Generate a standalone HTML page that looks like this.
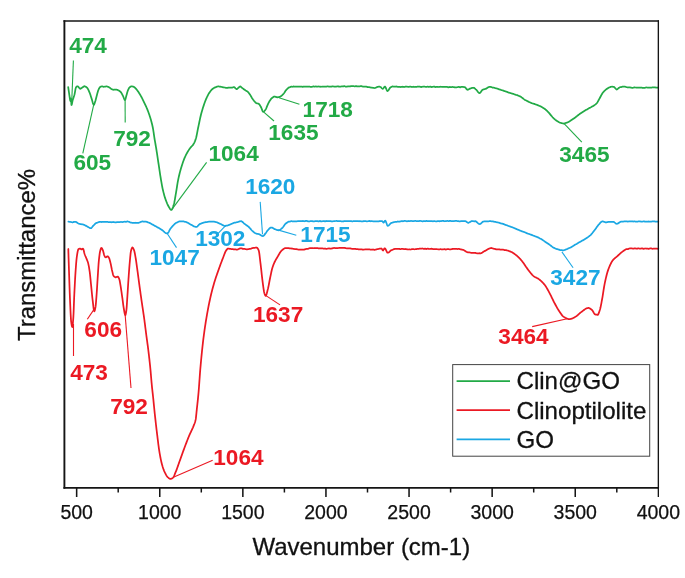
<!DOCTYPE html>
<html lang="en"><head><meta charset="utf-8"><title>FTIR spectra</title>
<style>html,body{margin:0;padding:0;background:#fff;}body{width:685px;height:578px;overflow:hidden;}svg{display:block;filter:blur(0.45px);}</style>
</head><body>
<svg width="685" height="578" viewBox="0 0 685 578">
<rect width="685" height="578" fill="#fff"/>
<path d="M68.20,87.20 L68.42,88.69 L68.63,90.20 L68.85,91.71 L69.07,93.20 L69.28,94.64 L69.50,96.00 L69.72,97.55 L69.95,99.18 L70.18,100.47 L70.40,101.00 L70.65,99.75 L70.90,98.50 L71.02,99.18 L71.14,100.79 L71.26,102.71 L71.38,104.32 L71.50,105.00 L71.78,104.48 L72.05,103.25 L72.32,101.76 L72.60,100.50 L72.98,99.23 L73.36,98.10 L73.74,97.00 L74.12,95.83 L74.50,94.50 L74.80,93.09 L75.10,91.35 L75.40,89.61 L75.70,88.19 L76.00,87.40 L76.40,86.96 L76.80,86.61 L77.20,86.36 L77.60,86.27 L77.97,86.43 L78.34,86.78 L78.71,87.24 L79.09,87.76 L79.46,88.22 L79.83,88.57 L80.20,88.83 L80.55,88.73 L80.90,88.52 L81.25,88.30 L81.60,88.07 L81.95,87.82 L82.30,87.60 L82.70,87.32 L83.10,86.98 L83.50,86.65 L83.90,86.35 L84.30,86.19 L84.67,86.30 L85.04,86.46 L85.41,86.63 L85.79,86.80 L86.16,87.04 L86.53,87.31 L86.90,87.60 L87.27,87.98 L87.64,88.50 L88.01,89.15 L88.39,89.89 L88.76,90.70 L89.13,91.54 L89.50,92.40 L89.85,93.28 L90.20,94.27 L90.55,95.34 L90.90,96.45 L91.25,97.55 L91.60,98.60 L91.97,99.79 L92.33,101.15 L92.70,102.49 L93.07,103.66 L93.43,104.49 L93.80,104.94 L94.15,104.47 L94.50,103.65 L94.85,102.58 L95.20,101.50 L95.52,100.47 L95.84,99.28 L96.16,98.00 L96.48,96.71 L96.80,95.50 L97.12,94.31 L97.44,93.08 L97.76,91.91 L98.08,90.85 L98.40,90.00 L98.76,89.20 L99.12,88.47 L99.48,87.83 L99.84,87.33 L100.20,87.00 L100.56,86.79 L100.92,86.61 L101.28,86.49 L101.64,86.42 L102.00,86.41 L102.36,86.41 L102.72,86.51 L103.08,86.64 L103.44,86.76 L103.80,86.79 L104.16,86.74 L104.53,86.68 L104.89,86.61 L105.25,86.53 L105.61,86.51 L105.97,86.49 L106.34,86.49 L106.70,86.49 L107.07,86.50 L107.43,86.58 L107.80,86.70 L108.17,86.86 L108.53,87.03 L108.90,87.20 L109.27,87.39 L109.63,87.64 L110.00,87.92 L110.37,88.20 L110.73,88.47 L111.10,88.70 L111.47,88.91 L111.83,89.14 L112.20,89.37 L112.57,89.58 L112.93,89.75 L113.30,89.78 L113.66,89.72 L114.03,89.65 L114.39,89.61 L114.75,89.65 L115.11,89.69 L115.47,89.73 L115.84,89.71 L116.20,89.67 L116.57,89.67 L116.93,89.74 L117.30,89.89 L117.67,90.06 L118.03,90.23 L118.40,90.39 L118.77,90.56 L119.13,90.77 L119.50,91.00 L119.87,91.27 L120.23,91.57 L120.60,91.90 L120.97,92.32 L121.33,92.85 L121.70,93.46 L122.07,94.13 L122.43,94.82 L122.80,95.50 L123.17,96.30 L123.53,97.26 L123.90,98.25 L124.27,99.13 L124.63,99.76 L125.00,100.03 L125.35,99.51 L125.70,98.33 L126.05,96.85 L126.40,95.50 L126.78,94.17 L127.15,92.76 L127.53,91.45 L127.90,90.40 L128.28,89.56 L128.66,88.78 L129.04,88.11 L129.42,87.57 L129.80,87.20 L130.14,86.96 L130.48,86.74 L130.82,86.57 L131.16,86.42 L131.50,86.36 L131.87,86.38 L132.23,86.42 L132.60,86.50 L132.97,86.60 L133.33,86.71 L133.70,86.83 L134.07,86.97 L134.43,87.22 L134.80,87.55 L135.17,87.92 L135.53,88.31 L135.90,88.70 L136.26,89.10 L136.62,89.53 L136.99,89.99 L137.35,90.48 L137.71,90.99 L138.08,91.52 L138.44,92.06 L138.80,92.60 L139.18,93.17 L139.55,93.77 L139.93,94.38 L140.30,95.02 L140.68,95.67 L141.05,96.33 L141.43,97.01 L141.80,97.70 L142.16,98.38 L142.53,99.09 L142.89,99.81 L143.25,100.55 L143.61,101.30 L143.97,102.06 L144.34,102.83 L144.70,103.60 L145.06,104.37 L145.42,105.14 L145.79,105.92 L146.15,106.71 L146.51,107.51 L146.88,108.34 L147.24,109.20 L147.60,110.10 L147.96,111.03 L148.32,111.99 L148.69,112.98 L149.05,114.00 L149.41,115.06 L149.78,116.17 L150.14,117.31 L150.50,118.50 L150.83,119.61 L151.16,120.74 L151.49,121.93 L151.81,123.18 L152.14,124.51 L152.47,125.94 L152.80,127.50 L153.01,128.63 L153.23,129.91 L153.44,131.29 L153.65,132.74 L153.86,134.23 L154.07,135.71 L154.29,137.14 L154.50,138.50 L154.72,139.86 L154.95,141.17 L155.18,142.46 L155.40,143.74 L155.62,145.02 L155.85,146.31 L156.08,147.64 L156.30,149.00 L156.52,150.38 L156.74,151.78 L156.96,153.22 L157.18,154.67 L157.40,156.14 L157.62,157.61 L157.84,159.09 L158.06,160.57 L158.28,162.04 L158.50,163.50 L158.72,164.96 L158.94,166.44 L159.16,167.93 L159.38,169.43 L159.60,170.92 L159.82,172.39 L160.04,173.85 L160.26,175.27 L160.48,176.66 L160.70,178.00 L160.96,179.57 L161.22,181.13 L161.49,182.67 L161.75,184.18 L162.01,185.63 L162.28,187.01 L162.54,188.30 L162.80,189.50 L163.18,191.09 L163.55,192.61 L163.93,194.04 L164.30,195.40 L164.68,196.69 L165.05,197.90 L165.43,199.04 L165.80,200.10 L166.16,201.07 L166.53,202.01 L166.89,202.90 L167.25,203.75 L167.61,204.54 L167.97,205.29 L168.34,205.97 L168.70,206.60 L169.07,207.24 L169.44,207.90 L169.81,208.54 L170.19,209.11 L170.56,209.58 L170.93,209.88 L171.30,209.94 L171.66,209.83 L172.01,209.37 L172.37,208.66 L172.73,207.76 L173.09,206.73 L173.44,205.63 L173.80,204.50 L174.08,203.51 L174.35,202.28 L174.62,200.88 L174.90,199.34 L175.18,197.71 L175.45,196.05 L175.72,194.40 L176.00,192.80 L176.24,191.38 L176.49,189.88 L176.73,188.33 L176.98,186.76 L177.22,185.21 L177.47,183.68 L177.71,182.22 L177.96,180.85 L178.20,179.60 L178.56,177.89 L178.92,176.27 L179.29,174.73 L179.65,173.26 L180.01,171.86 L180.38,170.52 L180.74,169.24 L181.10,168.00 L181.50,166.68 L181.90,165.39 L182.30,164.15 L182.70,162.95 L183.10,161.80 L183.50,160.70 L183.90,159.64 L184.30,158.64 L184.70,157.70 L185.09,156.83 L185.48,156.00 L185.87,155.20 L186.26,154.43 L186.64,153.70 L187.03,152.99 L187.42,152.31 L187.81,151.64 L188.20,151.00 L188.57,150.41 L188.93,149.85 L189.30,149.32 L189.67,148.80 L190.03,148.29 L190.40,147.80 L190.77,147.34 L191.13,146.91 L191.50,146.52 L191.87,146.13 L192.23,145.73 L192.60,145.32 L192.97,144.87 L193.33,144.37 L193.70,143.80 L194.07,143.15 L194.43,142.41 L194.80,141.58 L195.17,140.65 L195.53,139.62 L195.90,138.50 L196.19,137.47 L196.47,136.25 L196.76,134.89 L197.05,133.43 L197.34,131.91 L197.62,130.39 L197.91,128.90 L198.20,127.50 L198.50,126.08 L198.80,124.65 L199.10,123.20 L199.40,121.75 L199.70,120.33 L200.00,118.92 L200.30,117.56 L200.60,116.24 L200.90,114.98 L201.20,113.80 L201.56,112.45 L201.92,111.15 L202.29,109.90 L202.65,108.70 L203.01,107.54 L203.38,106.43 L203.74,105.35 L204.10,104.30 L204.46,103.28 L204.82,102.28 L205.19,101.31 L205.55,100.37 L205.91,99.46 L206.28,98.60 L206.64,97.78 L207.00,97.00 L207.36,96.26 L207.72,95.54 L208.09,94.85 L208.45,94.19 L208.81,93.56 L209.18,92.97 L209.54,92.41 L209.90,91.90 L210.26,91.41 L210.62,90.94 L210.99,90.50 L211.35,90.07 L211.71,89.67 L212.08,89.31 L212.44,88.98 L212.80,88.70 L213.18,88.44 L213.55,88.19 L213.93,87.96 L214.30,87.76 L214.68,87.58 L215.05,87.44 L215.43,87.32 L215.80,87.20 L216.16,87.03 L216.53,86.86 L216.89,86.69 L217.25,86.57 L217.61,86.49 L217.97,86.43 L218.34,86.39 L218.70,86.42 L219.06,86.51 L219.42,86.60 L219.78,86.65 L220.14,86.67 L220.50,86.71 L220.86,86.76 L221.22,86.85 L221.58,86.94 L221.94,87.02 L222.30,87.10 L222.70,87.21 L223.10,87.33 L223.50,87.44 L223.90,87.47 L224.30,87.49 L224.70,87.50 L225.10,87.60 L225.50,87.73 L225.90,87.86 L226.30,87.94 L226.70,87.98 L227.07,87.98 L227.43,87.96 L227.80,87.82 L228.17,87.68 L228.53,87.55 L228.90,87.51 L229.27,87.55 L229.63,87.58 L230.00,87.61 L230.37,87.62 L230.73,87.62 L231.10,87.62 L231.46,87.61 L231.82,87.58 L232.19,87.55 L232.55,87.52 L232.91,87.41 L233.28,87.29 L233.64,87.17 L234.00,87.10 L234.37,87.27 L234.74,87.56 L235.11,87.91 L235.49,88.29 L235.86,88.64 L236.23,88.93 L236.60,89.21 L236.96,88.98 L237.32,88.70 L237.68,88.41 L238.04,88.09 L238.40,87.80 L238.74,87.51 L239.08,87.17 L239.42,86.84 L239.76,86.58 L240.10,86.44 L240.48,86.58 L240.86,86.83 L241.24,87.15 L241.62,87.49 L242.00,87.80 L242.38,88.08 L242.75,88.37 L243.12,88.66 L243.50,88.96 L243.88,89.26 L244.25,89.55 L244.62,89.83 L245.00,90.10 L245.36,90.33 L245.72,90.55 L246.09,90.75 L246.45,90.95 L246.81,91.14 L247.18,91.36 L247.54,91.61 L247.90,91.90 L248.27,92.26 L248.63,92.69 L249.00,93.18 L249.37,93.71 L249.73,94.25 L250.10,94.80 L250.47,95.38 L250.83,96.00 L251.20,96.65 L251.57,97.30 L251.93,97.92 L252.30,98.50 L252.67,99.04 L253.03,99.56 L253.40,100.06 L253.77,100.54 L254.13,100.99 L254.50,101.40 L254.85,101.78 L255.20,102.16 L255.55,102.52 L255.90,102.84 L256.25,103.11 L256.60,103.25 L256.97,103.36 L257.33,103.47 L257.70,103.50 L258.07,103.55 L258.43,103.66 L258.80,103.89 L259.17,104.17 L259.53,104.62 L259.90,105.20 L260.27,105.86 L260.63,106.54 L261.00,107.20 L261.37,107.97 L261.73,108.93 L262.10,109.93 L262.47,110.82 L262.83,111.45 L263.20,111.74 L263.54,111.67 L263.89,111.45 L264.23,111.17 L264.57,110.81 L264.91,110.40 L265.26,109.95 L265.60,109.50 L266.00,108.83 L266.40,107.94 L266.80,106.93 L267.20,105.92 L267.60,105.00 L267.97,104.23 L268.33,103.45 L268.70,102.69 L269.07,101.96 L269.43,101.30 L269.80,100.70 L270.17,100.15 L270.53,99.63 L270.90,99.13 L271.27,98.69 L271.63,98.31 L272.00,98.00 L272.35,97.75 L272.70,97.50 L273.05,97.26 L273.40,97.04 L273.75,96.81 L274.10,96.61 L274.45,96.50 L274.80,96.54 L275.19,96.69 L275.57,96.82 L275.96,96.93 L276.34,97.07 L276.73,97.21 L277.11,97.30 L277.50,97.29 L277.86,97.21 L278.23,97.14 L278.59,97.10 L278.95,97.04 L279.31,96.95 L279.67,96.83 L280.04,96.70 L280.40,96.56 L280.77,96.34 L281.15,96.08 L281.52,95.79 L281.90,95.46 L282.27,95.09 L282.65,94.70 L283.02,94.30 L283.40,93.90 L283.76,93.47 L284.12,92.98 L284.49,92.45 L284.85,91.90 L285.21,91.34 L285.57,90.81 L285.94,90.32 L286.30,89.90 L286.66,89.51 L287.02,89.13 L287.39,88.75 L287.75,88.40 L288.11,88.08 L288.48,87.80 L288.84,87.56 L289.20,87.41 L289.56,87.32 L289.93,87.22 L290.29,87.04 L290.65,86.86 L291.01,86.68 L291.38,86.62 L291.74,86.64 L292.10,86.71 L292.50,86.77 L292.90,86.67 L293.30,86.56 L293.70,86.46 L294.10,86.51 L294.50,86.56 L294.90,86.61 L295.30,86.63 L295.70,86.64 L296.10,86.65 L296.50,86.63 L296.90,86.59 L297.30,86.55 L297.70,86.54 L298.10,86.59 L298.50,86.65 L298.90,86.71 L299.30,86.71 L299.70,86.72 L300.10,86.72 L300.50,86.69 L300.90,86.65 L301.30,86.62 L301.70,86.63 L302.10,86.70 L302.49,86.78 L302.89,86.81 L303.29,86.71 L303.69,86.61 L304.09,86.51 L304.49,86.51 L304.89,86.51 L305.28,86.52 L305.68,86.54 L306.08,86.56 L306.48,86.59 L306.88,86.61 L307.28,86.61 L307.68,86.61 L308.08,86.61 L308.47,86.57 L308.87,86.54 L309.27,86.51 L309.67,86.62 L310.07,86.74 L310.47,86.86 L310.87,86.88 L311.26,86.86 L311.66,86.85 L312.06,86.78 L312.46,86.66 L312.86,86.53 L313.26,86.43 L313.66,86.47 L314.05,86.51 L314.45,86.56 L314.85,86.54 L315.25,86.51 L315.65,86.48 L316.05,86.49 L316.45,86.53 L316.85,86.56 L317.24,86.57 L317.64,86.54 L318.04,86.50 L318.44,86.48 L318.84,86.51 L319.24,86.55 L319.64,86.58 L320.03,86.64 L320.43,86.71 L320.83,86.78 L321.23,86.75 L321.63,86.66 L322.03,86.56 L322.43,86.51 L322.82,86.55 L323.22,86.59 L323.62,86.63 L324.02,86.62 L324.42,86.61 L324.82,86.60 L325.22,86.61 L325.62,86.63 L326.01,86.66 L326.41,86.60 L326.81,86.48 L327.21,86.36 L327.61,86.31 L328.01,86.42 L328.41,86.53 L328.80,86.64 L329.20,86.68 L329.60,86.71 L330.00,86.74 L330.40,86.70 L330.80,86.64 L331.20,86.58 L331.60,86.52 L332.00,86.46 L332.40,86.41 L332.80,86.38 L333.20,86.44 L333.60,86.50 L334.00,86.57 L334.40,86.57 L334.80,86.57 L335.20,86.58 L335.60,86.57 L336.00,86.55 L336.40,86.54 L336.80,86.49 L337.20,86.40 L337.60,86.31 L338.00,86.28 L338.40,86.41 L338.80,86.55 L339.20,86.69 L339.60,86.68 L340.00,86.67 L340.40,86.67 L340.80,86.59 L341.20,86.50 L341.60,86.41 L342.00,86.37 L342.40,86.40 L342.80,86.42 L343.20,86.42 L343.60,86.32 L344.00,86.22 L344.40,86.13 L344.80,86.28 L345.20,86.44 L345.60,86.60 L346.00,86.61 L346.40,86.58 L346.80,86.55 L347.20,86.52 L347.60,86.48 L348.00,86.45 L348.40,86.43 L348.80,86.45 L349.20,86.47 L349.60,86.48 L350.00,86.38 L350.40,86.28 L350.80,86.18 L351.20,86.17 L351.60,86.19 L352.00,86.21 L352.40,86.21 L352.80,86.20 L353.20,86.19 L353.60,86.19 L354.00,86.25 L354.40,86.31 L354.80,86.36 L355.20,86.28 L355.60,86.19 L356.00,86.10 L356.40,86.18 L356.80,86.32 L357.20,86.46 L357.60,86.49 L358.00,86.41 L358.40,86.34 L358.80,86.28 L359.20,86.28 L359.60,86.27 L360.00,86.27 L360.40,86.22 L360.80,86.17 L361.20,86.13 L361.60,86.21 L362.00,86.32 L362.40,86.44 L362.80,86.52 L363.20,86.57 L363.60,86.63 L364.00,86.67 L364.40,86.69 L364.80,86.70 L365.20,86.72 L365.60,86.72 L366.00,86.72 L366.40,86.72 L366.80,86.81 L367.20,86.94 L367.60,87.07 L368.00,87.11 L368.40,87.08 L368.80,87.05 L369.20,87.06 L369.60,87.21 L370.00,87.35 L370.40,87.49 L370.80,87.53 L371.20,87.57 L371.60,87.63 L372.00,87.68 L372.40,87.73 L372.80,87.77 L373.20,87.83 L373.60,87.90 L374.00,87.97 L374.40,88.01 L374.77,88.00 L375.13,87.92 L375.50,87.81 L375.87,87.65 L376.23,87.47 L376.60,87.28 L376.97,87.10 L377.33,86.96 L377.70,86.85 L378.07,86.79 L378.43,86.74 L378.80,86.68 L379.14,86.64 L379.48,86.66 L379.82,86.78 L380.16,86.92 L380.50,87.03 L380.87,87.22 L381.23,87.58 L381.60,88.00 L381.97,88.39 L382.33,88.69 L382.70,88.80 L383.07,88.64 L383.43,88.23 L383.80,87.70 L384.17,87.17 L384.53,86.76 L384.90,86.64 L385.27,86.84 L385.64,87.47 L386.01,88.33 L386.39,89.27 L386.76,90.13 L387.13,90.76 L387.50,91.09 L387.89,90.86 L388.27,90.49 L388.66,89.96 L389.05,89.34 L389.44,88.69 L389.83,88.09 L390.21,87.60 L390.60,87.30 L390.97,87.16 L391.33,87.01 L391.70,86.83 L392.07,86.65 L392.43,86.46 L392.80,86.43 L393.18,86.50 L393.56,86.59 L393.93,86.63 L394.31,86.61 L394.69,86.59 L395.07,86.56 L395.44,86.54 L395.82,86.51 L396.20,86.48 L396.58,86.53 L396.96,86.65 L397.33,86.77 L397.71,86.90 L398.09,86.88 L398.47,86.86 L398.84,86.84 L399.22,86.86 L399.60,86.92 L400.00,86.98 L400.40,87.01 L400.80,86.96 L401.20,86.91 L401.60,86.86 L402.00,86.81 L402.40,86.77 L402.80,86.72 L403.20,86.79 L403.60,86.90 L404.00,87.02 L404.40,87.00 L404.80,86.85 L405.20,86.70 L405.60,86.58 L406.00,86.57 L406.40,86.56 L406.80,86.55 L407.20,86.67 L407.60,86.78 L408.00,86.90 L408.40,86.88 L408.80,86.82 L409.20,86.76 L409.60,86.73 L410.00,86.73 L410.40,86.72 L410.80,86.74 L411.20,86.83 L411.60,86.92 L412.00,87.01 L412.40,86.92 L412.80,86.82 L413.20,86.73 L413.60,86.78 L414.00,86.87 L414.40,86.97 L414.80,87.00 L415.20,86.95 L415.60,86.91 L416.00,86.87 L416.40,86.81 L416.80,86.76 L417.20,86.70 L417.60,86.66 L418.00,86.61 L418.40,86.56 L418.80,86.58 L419.20,86.61 L419.60,86.64 L420.00,86.72 L420.40,86.84 L420.80,86.97 L421.20,87.04 L421.60,86.94 L422.00,86.84 L422.40,86.75 L422.80,86.70 L423.20,86.66 L423.60,86.62 L424.00,86.63 L424.40,86.65 L424.80,86.67 L425.20,86.74 L425.60,86.84 L426.00,86.95 L426.40,86.99 L426.80,86.87 L427.20,86.74 L427.60,86.61 L428.00,86.72 L428.40,86.82 L428.80,86.93 L429.20,86.87 L429.60,86.76 L430.00,86.65 L430.40,86.67 L430.79,86.81 L431.19,86.95 L431.59,87.04 L431.98,86.97 L432.38,86.90 L432.78,86.83 L433.17,86.76 L433.57,86.68 L433.97,86.60 L434.37,86.68 L434.76,86.84 L435.16,86.99 L435.56,87.05 L435.95,86.96 L436.35,86.87 L436.75,86.80 L437.14,86.87 L437.54,86.94 L437.94,87.01 L438.33,87.00 L438.73,86.97 L439.13,86.95 L439.52,86.90 L439.92,86.84 L440.32,86.78 L440.71,86.74 L441.11,86.75 L441.51,86.76 L441.90,86.77 L442.30,86.79 L442.70,86.81 L443.10,86.82 L443.49,86.84 L443.89,86.85 L444.29,86.86 L444.68,86.86 L445.08,86.85 L445.48,86.84 L445.87,86.84 L446.27,86.85 L446.67,86.85 L447.06,86.86 L447.46,87.00 L447.86,87.16 L448.25,87.32 L448.65,87.29 L449.05,87.15 L449.44,87.02 L449.84,86.96 L450.24,87.03 L450.63,87.11 L451.03,87.17 L451.43,87.11 L451.83,87.05 L452.22,86.99 L452.62,86.99 L453.02,87.01 L453.41,87.03 L453.81,87.09 L454.21,87.18 L454.60,87.28 L455.00,87.35 L455.40,87.38 L455.79,87.41 L456.19,87.43 L456.58,87.35 L456.98,87.26 L457.38,87.18 L457.77,87.09 L458.17,87.00 L458.56,86.92 L458.96,86.93 L459.35,87.07 L459.75,87.22 L460.15,87.33 L460.54,87.17 L460.94,87.00 L461.33,86.84 L461.73,86.85 L462.12,86.89 L462.52,86.94 L462.92,86.97 L463.31,86.99 L463.71,87.01 L464.10,87.04 L464.50,87.07 L464.86,87.12 L465.23,87.42 L465.59,87.85 L465.95,88.35 L466.31,88.85 L466.67,89.28 L467.04,89.59 L467.40,89.79 L467.76,89.71 L468.12,89.58 L468.49,89.41 L468.85,89.23 L469.21,89.03 L469.57,88.83 L469.94,88.67 L470.30,88.55 L470.66,88.43 L471.02,88.28 L471.39,88.13 L471.75,88.00 L472.11,87.89 L472.48,87.82 L472.84,87.79 L473.20,87.79 L473.57,87.75 L473.95,87.83 L474.32,88.05 L474.70,88.34 L475.07,88.67 L475.45,89.02 L475.82,89.37 L476.20,89.70 L476.57,90.06 L476.93,90.50 L477.30,90.99 L477.67,91.49 L478.03,91.98 L478.40,92.42 L478.77,92.78 L479.13,93.01 L479.50,93.10 L479.90,92.98 L480.30,92.64 L480.70,92.16 L481.10,91.59 L481.50,90.99 L481.90,90.44 L482.30,89.99 L482.70,89.70 L483.07,89.55 L483.45,89.46 L483.82,89.34 L484.20,89.22 L484.57,89.10 L484.95,89.01 L485.32,88.94 L485.70,88.83 L486.06,88.67 L486.42,88.44 L486.78,88.21 L487.14,87.97 L487.50,87.73 L487.86,87.50 L488.22,87.29 L488.58,87.13 L488.94,87.00 L489.30,86.90 L489.67,86.85 L490.04,86.84 L490.41,86.90 L490.78,86.97 L491.15,87.04 L491.52,87.16 L491.89,87.31 L492.26,87.46 L492.63,87.60 L493.00,87.59 L493.38,87.60 L493.77,87.61 L494.15,87.72 L494.54,87.87 L494.92,88.03 L495.31,88.16 L495.69,88.24 L496.07,88.33 L496.46,88.42 L496.84,88.51 L497.23,88.61 L497.61,88.70 L497.99,88.84 L498.38,89.03 L498.76,89.22 L499.15,89.39 L499.53,89.46 L499.92,89.53 L500.30,89.60 L500.70,89.75 L501.09,89.94 L501.49,90.13 L501.88,90.26 L502.28,90.33 L502.67,90.39 L503.07,90.48 L503.46,90.66 L503.86,90.85 L504.25,91.03 L504.65,91.13 L505.05,91.23 L505.44,91.33 L505.84,91.45 L506.23,91.60 L506.63,91.75 L507.02,91.90 L507.42,92.08 L507.81,92.26 L508.21,92.44 L508.60,92.54 L509.00,92.64 L509.39,92.74 L509.79,92.87 L510.18,93.01 L510.57,93.14 L510.96,93.28 L511.36,93.41 L511.75,93.53 L512.14,93.65 L512.54,93.72 L512.93,93.78 L513.32,93.85 L513.71,94.01 L514.11,94.19 L514.50,94.37 L514.89,94.52 L515.29,94.65 L515.68,94.79 L516.07,94.91 L516.46,94.99 L516.86,95.08 L517.25,95.17 L517.64,95.34 L518.04,95.52 L518.43,95.70 L518.82,95.87 L519.21,96.03 L519.61,96.20 L520.00,96.38 L520.39,96.60 L520.78,96.83 L521.18,97.09 L521.57,97.36 L521.96,97.64 L522.35,97.94 L522.75,98.24 L523.14,98.54 L523.53,98.83 L523.92,99.12 L524.32,99.40 L524.71,99.66 L525.10,99.90 L525.49,100.13 L525.87,100.35 L526.26,100.57 L526.65,100.77 L527.03,100.97 L527.42,101.16 L527.81,101.35 L528.19,101.56 L528.58,101.77 L528.97,101.98 L529.35,102.15 L529.74,102.30 L530.13,102.45 L530.51,102.61 L530.90,102.80 L531.28,102.99 L531.67,103.16 L532.05,103.28 L532.44,103.40 L532.82,103.50 L533.21,103.60 L533.59,103.70 L533.97,103.79 L534.36,103.91 L534.74,104.07 L535.13,104.24 L535.51,104.40 L535.89,104.53 L536.28,104.66 L536.66,104.79 L537.05,104.92 L537.43,105.05 L537.82,105.19 L538.20,105.34 L538.59,105.51 L538.99,105.69 L539.38,105.88 L539.77,106.02 L540.17,106.18 L540.56,106.35 L540.95,106.54 L541.35,106.74 L541.74,106.96 L542.13,107.18 L542.53,107.41 L542.92,107.65 L543.31,107.89 L543.71,108.14 L544.10,108.40 L544.49,108.68 L544.88,108.97 L545.27,109.29 L545.66,109.63 L546.05,109.98 L546.45,110.35 L546.84,110.73 L547.23,111.11 L547.62,111.51 L548.01,111.90 L548.40,112.30 L548.80,112.72 L549.20,113.17 L549.60,113.63 L550.00,114.11 L550.40,114.60 L550.80,115.09 L551.20,115.58 L551.60,116.06 L552.00,116.53 L552.40,116.98 L552.80,117.40 L553.19,117.79 L553.57,118.18 L553.96,118.56 L554.34,118.92 L554.73,119.27 L555.11,119.60 L555.50,119.90 L555.90,120.20 L556.30,120.50 L556.70,120.79 L557.10,121.08 L557.50,121.35 L557.90,121.61 L558.30,121.85 L558.70,122.08 L559.10,122.30 L559.50,122.48 L559.90,122.63 L560.29,122.76 L560.68,122.86 L561.07,122.95 L561.46,123.03 L561.84,123.14 L562.23,123.24 L562.62,123.32 L563.01,123.41 L563.40,123.51 L563.80,123.56 L564.20,123.52 L564.60,123.35 L565.00,123.19 L565.40,123.02 L565.80,122.93 L566.20,122.82 L566.60,122.69 L567.00,122.55 L567.40,122.41 L567.80,122.26 L568.17,122.10 L568.54,121.90 L568.91,121.70 L569.29,121.50 L569.66,121.30 L570.03,121.07 L570.40,120.84 L570.77,120.60 L571.14,120.35 L571.51,120.10 L571.89,119.85 L572.26,119.60 L572.63,119.35 L573.00,119.10 L573.39,118.84 L573.78,118.56 L574.17,118.28 L574.56,117.99 L574.94,117.70 L575.33,117.39 L575.72,117.09 L576.11,116.78 L576.50,116.47 L576.89,116.16 L577.28,115.85 L577.67,115.54 L578.06,115.24 L578.44,114.94 L578.83,114.64 L579.22,114.35 L579.61,114.07 L580.00,113.80 L580.39,113.53 L580.78,113.27 L581.17,113.01 L581.56,112.76 L581.94,112.51 L582.33,112.26 L582.72,112.01 L583.11,111.76 L583.50,111.52 L583.89,111.28 L584.28,111.04 L584.67,110.80 L585.06,110.56 L585.44,110.33 L585.83,110.10 L586.22,109.86 L586.61,109.63 L587.00,109.40 L587.39,109.17 L587.77,108.95 L588.16,108.73 L588.55,108.52 L588.94,108.31 L589.33,108.10 L589.71,107.89 L590.10,107.69 L590.49,107.49 L590.88,107.29 L591.26,107.08 L591.65,106.85 L592.04,106.62 L592.43,106.39 L592.81,106.15 L593.20,105.90 L593.59,105.65 L593.98,105.41 L594.37,105.16 L594.76,104.91 L595.14,104.64 L595.53,104.35 L595.92,104.04 L596.31,103.69 L596.70,103.30 L597.07,102.85 L597.44,102.29 L597.81,101.65 L598.19,100.97 L598.56,100.26 L598.93,99.56 L599.30,98.90 L599.69,98.21 L600.08,97.49 L600.47,96.76 L600.86,96.02 L601.24,95.29 L601.63,94.60 L602.02,93.94 L602.41,93.33 L602.80,92.80 L603.19,92.32 L603.58,91.86 L603.97,91.43 L604.36,91.02 L604.74,90.63 L605.13,90.27 L605.52,89.92 L605.91,89.60 L606.30,89.30 L606.69,89.01 L607.08,88.72 L607.47,88.44 L607.86,88.17 L608.24,87.92 L608.63,87.69 L609.02,87.50 L609.41,87.36 L609.80,87.22 L610.19,87.07 L610.58,86.91 L610.97,86.78 L611.36,86.75 L611.74,86.73 L612.13,86.74 L612.52,86.74 L612.91,86.76 L613.30,86.77 L613.69,86.76 L614.08,86.94 L614.47,87.30 L614.86,87.73 L615.24,88.17 L615.63,88.60 L616.02,88.96 L616.41,89.27 L616.80,89.54 L617.19,89.30 L617.57,89.00 L617.96,88.69 L618.34,88.33 L618.73,87.99 L619.11,87.69 L619.50,87.48 L619.89,87.27 L620.28,87.18 L620.67,87.13 L621.06,87.10 L621.45,87.03 L621.85,86.88 L622.24,86.73 L622.63,86.59 L623.02,86.54 L623.41,86.51 L623.80,86.50 L624.18,86.54 L624.56,86.60 L624.94,86.67 L625.31,86.77 L625.69,86.90 L626.07,87.04 L626.45,87.17 L626.83,87.25 L627.21,87.31 L627.59,87.36 L627.96,87.40 L628.34,87.43 L628.72,87.44 L629.10,87.42 L629.50,87.44 L629.90,87.45 L630.30,87.47 L630.70,87.54 L631.10,87.64 L631.50,87.74 L631.90,87.79 L632.30,87.78 L632.70,87.78 L633.10,87.75 L633.50,87.64 L633.90,87.53 L634.30,87.43 L634.70,87.45 L635.10,87.48 L635.50,87.50 L635.90,87.53 L636.30,87.55 L636.70,87.58 L637.10,87.58 L637.50,87.56 L637.90,87.54 L638.30,87.54 L638.70,87.60 L639.10,87.66 L639.50,87.72 L639.90,87.67 L640.30,87.61 L640.70,87.56 L641.10,87.59 L641.50,87.65 L641.90,87.71 L642.30,87.77 L642.70,87.83 L643.10,87.90 L643.49,87.94 L643.88,87.92 L644.28,87.91 L644.67,87.89 L645.06,87.77 L645.45,87.64 L645.84,87.52 L646.24,87.47 L646.63,87.49 L647.02,87.50 L647.41,87.52 L647.81,87.55 L648.20,87.58 L648.59,87.61 L648.98,87.64 L649.37,87.67 L649.77,87.70 L650.16,87.68 L650.55,87.63 L650.94,87.58 L651.33,87.54 L651.73,87.51 L652.12,87.48 L652.51,87.46 L652.90,87.46 L653.29,87.47 L653.69,87.48 L654.08,87.46 L654.47,87.43 L654.86,87.40 L655.26,87.42 L655.65,87.53 L656.04,87.63 L656.43,87.72 L656.82,87.69 L657.22,87.65 L657.61,87.62 L658.00,87.57" fill="none" stroke="#22AA46" stroke-width="1.75" stroke-linejoin="round" stroke-linecap="round"/>
<path d="M68.40,221.61 L68.79,221.68 L69.18,221.74 L69.57,221.80 L69.96,221.86 L70.35,221.93 L70.74,222.01 L71.13,222.08 L71.52,222.15 L71.91,222.24 L72.30,222.34 L72.67,222.33 L73.04,222.22 L73.41,222.07 L73.79,221.92 L74.16,221.81 L74.53,221.75 L74.90,221.77 L75.30,221.76 L75.70,221.81 L76.10,221.95 L76.50,222.18 L76.90,222.45 L77.30,222.73 L77.70,223.02 L78.10,223.29 L78.50,223.54 L78.90,223.74 L79.30,223.87 L79.67,223.94 L80.03,223.99 L80.40,224.03 L80.77,224.08 L81.13,224.17 L81.50,224.26 L81.87,224.36 L82.23,224.41 L82.60,224.45 L82.97,224.49 L83.33,224.56 L83.70,224.69 L84.09,224.85 L84.48,225.03 L84.87,225.23 L85.26,225.43 L85.65,225.64 L86.05,225.86 L86.44,226.07 L86.83,226.28 L87.22,226.50 L87.61,226.71 L88.00,226.91 L88.39,227.12 L88.77,227.38 L89.16,227.64 L89.54,227.89 L89.93,228.05 L90.31,228.12 L90.70,228.12 L91.07,228.17 L91.44,227.93 L91.81,227.53 L92.19,227.06 L92.56,226.57 L92.93,226.10 L93.30,225.70 L93.69,225.32 L94.08,224.93 L94.47,224.52 L94.86,224.12 L95.24,223.74 L95.63,223.39 L96.02,223.10 L96.41,222.90 L96.80,222.80 L97.17,222.71 L97.54,222.61 L97.91,222.46 L98.29,222.30 L98.66,222.15 L99.03,222.02 L99.40,221.95 L99.77,221.88 L100.14,221.83 L100.51,221.85 L100.89,221.91 L101.26,221.99 L101.63,222.03 L102.00,221.97 L102.39,221.91 L102.78,221.84 L103.17,221.81 L103.57,221.79 L103.96,221.76 L104.35,221.77 L104.74,221.80 L105.13,221.82 L105.53,221.83 L105.92,221.82 L106.31,221.80 L106.70,221.78 L107.09,221.85 L107.48,221.91 L107.88,221.98 L108.27,222.03 L108.66,222.06 L109.05,222.10 L109.44,222.12 L109.83,222.11 L110.22,222.09 L110.62,222.08 L111.01,222.14 L111.40,222.20 L111.79,222.27 L112.18,222.21 L112.57,222.11 L112.97,222.01 L113.36,221.99 L113.75,222.07 L114.14,222.16 L114.53,222.25 L114.92,222.32 L115.32,222.39 L115.71,222.46 L116.10,222.37 L116.49,222.22 L116.89,222.08 L117.28,222.02 L117.67,222.07 L118.07,222.11 L118.46,222.14 L118.85,222.14 L119.25,222.14 L119.64,222.14 L120.04,222.08 L120.43,222.01 L120.82,221.94 L121.22,221.94 L121.61,222.01 L122.00,222.07 L122.40,222.10 L122.79,222.00 L123.18,221.90 L123.58,221.80 L123.97,221.76 L124.36,221.74 L124.76,221.71 L125.15,221.73 L125.55,221.77 L125.94,221.82 L126.33,221.81 L126.73,221.65 L127.12,221.50 L127.51,221.35 L127.91,221.48 L128.30,221.62 L128.69,221.75 L129.07,221.83 L129.46,222.01 L129.84,222.22 L130.23,222.41 L130.61,222.54 L131.00,222.62 L131.38,222.68 L131.76,222.73 L132.14,222.77 L132.53,222.82 L132.91,222.85 L133.29,222.87 L133.67,222.89 L134.05,222.90 L134.43,222.85 L134.81,222.80 L135.19,222.74 L135.57,222.77 L135.96,222.82 L136.34,222.86 L136.72,222.90 L137.10,222.91 L137.48,222.91 L137.86,222.87 L138.24,222.85 L138.62,222.79 L139.01,222.69 L139.39,222.55 L139.77,222.39 L140.15,222.22 L140.53,222.06 L140.91,221.90 L141.29,221.74 L141.67,221.60 L142.06,221.51 L142.44,221.47 L142.82,221.49 L143.20,221.54 L143.57,221.52 L143.93,221.52 L144.30,221.54 L144.67,221.55 L145.03,221.56 L145.40,221.59 L145.77,221.64 L146.13,221.72 L146.50,221.80 L146.87,221.89 L147.23,222.01 L147.60,222.16 L147.99,222.32 L148.38,222.47 L148.77,222.60 L149.16,222.75 L149.54,222.92 L149.93,223.10 L150.32,223.29 L150.71,223.49 L151.10,223.71 L151.49,223.94 L151.88,224.17 L152.27,224.40 L152.66,224.62 L153.04,224.84 L153.43,225.07 L153.82,225.29 L154.21,225.50 L154.60,225.71 L154.99,225.91 L155.38,226.12 L155.77,226.33 L156.16,226.55 L156.54,226.76 L156.93,226.97 L157.32,227.19 L157.71,227.41 L158.10,227.63 L158.49,227.85 L158.88,228.08 L159.27,228.30 L159.66,228.52 L160.04,228.75 L160.43,228.99 L160.82,229.22 L161.21,229.46 L161.60,229.70 L162.00,229.97 L162.40,230.28 L162.80,230.61 L163.20,230.96 L163.60,231.32 L164.00,231.68 L164.40,232.04 L164.80,232.37 L165.20,232.68 L165.60,232.95 L166.00,233.16 L166.40,233.29 L166.80,233.34 L167.20,233.33 L167.56,233.38 L167.91,233.07 L168.27,232.59 L168.62,232.00 L168.98,231.33 L169.33,230.64 L169.69,229.95 L170.04,229.33 L170.40,228.80 L170.80,228.28 L171.20,227.78 L171.60,227.29 L172.00,226.81 L172.40,226.36 L172.80,225.92 L173.20,225.50 L173.56,225.13 L173.92,224.75 L174.29,224.37 L174.65,224.01 L175.01,223.67 L175.38,223.37 L175.74,223.11 L176.10,222.91 L176.48,222.75 L176.86,222.57 L177.24,222.38 L177.61,222.17 L177.99,221.97 L178.37,221.78 L178.75,221.64 L179.13,221.50 L179.51,221.38 L179.89,221.35 L180.26,221.35 L180.64,221.39 L181.02,221.42 L181.40,221.43 L181.77,221.42 L182.13,221.42 L182.50,221.34 L182.87,221.29 L183.23,221.26 L183.60,221.34 L183.97,221.49 L184.33,221.65 L184.70,221.80 L185.07,221.82 L185.43,221.85 L185.80,221.89 L186.20,222.01 L186.60,222.20 L187.00,222.41 L187.40,222.62 L187.80,222.85 L188.20,223.09 L188.60,223.33 L189.00,223.58 L189.40,223.82 L189.80,224.05 L190.20,224.28 L190.60,224.49 L191.00,224.69 L191.38,224.88 L191.76,225.10 L192.14,225.31 L192.51,225.53 L192.89,225.75 L193.27,225.96 L193.65,226.16 L194.03,226.35 L194.41,226.50 L194.79,226.63 L195.16,226.72 L195.54,226.80 L195.92,226.85 L196.30,226.88 L196.69,226.86 L197.08,226.70 L197.47,226.37 L197.86,225.98 L198.24,225.54 L198.63,225.10 L199.02,224.69 L199.41,224.35 L199.80,224.09 L200.20,223.90 L200.60,223.73 L201.00,223.56 L201.40,223.41 L201.80,223.26 L202.20,223.10 L202.60,222.94 L203.00,222.81 L203.40,222.70 L203.80,222.61 L204.20,222.52 L204.60,222.40 L205.00,222.29 L205.38,222.19 L205.76,222.15 L206.14,222.14 L206.51,222.13 L206.89,222.10 L207.27,222.01 L207.65,221.92 L208.03,221.83 L208.41,221.75 L208.79,221.67 L209.16,221.60 L209.54,221.57 L209.92,221.60 L210.30,221.64 L210.70,221.70 L211.10,221.66 L211.50,221.62 L211.90,221.59 L212.30,221.61 L212.70,221.65 L213.10,221.69 L213.50,221.71 L213.90,221.72 L214.30,221.73 L214.70,221.77 L215.10,221.90 L215.50,222.04 L215.88,222.16 L216.26,222.18 L216.64,222.24 L217.01,222.34 L217.39,222.49 L217.77,222.69 L218.15,222.88 L218.53,223.08 L218.91,223.24 L219.29,223.42 L219.66,223.58 L220.04,223.75 L220.42,223.91 L220.80,224.05 L221.20,224.24 L221.60,224.46 L222.00,224.69 L222.40,224.91 L222.80,225.13 L223.20,225.35 L223.60,225.54 L224.00,225.73 L224.40,225.89 L224.80,226.03 L225.20,226.05 L225.57,225.91 L225.93,225.78 L226.30,225.64 L226.67,225.64 L227.03,225.60 L227.40,225.53 L227.77,225.43 L228.13,225.30 L228.50,225.17 L228.87,225.04 L229.23,224.88 L229.60,224.71 L229.99,224.54 L230.38,224.38 L230.77,224.22 L231.16,224.05 L231.55,223.88 L231.95,223.70 L232.34,223.53 L232.73,223.36 L233.12,223.19 L233.51,223.01 L233.90,222.85 L234.30,222.73 L234.70,222.68 L235.10,222.64 L235.50,222.58 L235.90,222.47 L236.30,222.36 L236.70,222.26 L237.10,222.18 L237.50,222.10 L237.89,222.00 L238.28,221.86 L238.67,221.71 L239.06,221.56 L239.44,221.43 L239.83,221.34 L240.22,221.27 L240.61,221.23 L241.00,221.16 L241.39,221.21 L241.78,221.41 L242.17,221.68 L242.56,222.00 L242.94,222.36 L243.33,222.74 L243.72,223.12 L244.11,223.48 L244.50,223.80 L244.89,224.09 L245.28,224.36 L245.67,224.64 L246.06,224.91 L246.45,225.18 L246.85,225.46 L247.24,225.74 L247.63,226.04 L248.02,226.34 L248.41,226.66 L248.80,227.00 L249.19,227.37 L249.58,227.78 L249.97,228.22 L250.36,228.67 L250.74,229.13 L251.13,229.59 L251.52,230.02 L251.91,230.43 L252.30,230.80 L252.69,231.15 L253.08,231.49 L253.47,231.83 L253.86,232.16 L254.24,232.47 L254.63,232.76 L255.02,233.01 L255.41,233.23 L255.80,233.40 L256.19,233.54 L256.58,233.68 L256.97,233.81 L257.36,233.94 L257.74,233.99 L258.13,233.99 L258.52,234.01 L258.91,234.08 L259.30,234.21 L259.70,234.42 L260.10,234.69 L260.50,234.95 L260.90,235.22 L261.30,235.48 L261.70,235.72 L262.10,235.91 L262.50,236.01 L262.90,236.02 L263.27,235.98 L263.64,235.74 L264.01,235.36 L264.39,234.89 L264.76,234.38 L265.13,233.87 L265.50,233.40 L265.87,232.93 L266.24,232.41 L266.61,231.87 L266.99,231.32 L267.36,230.79 L267.73,230.31 L268.10,229.90 L268.50,229.49 L268.90,229.06 L269.30,228.64 L269.70,228.25 L270.10,227.91 L270.50,227.65 L270.90,227.56 L271.30,227.60 L271.69,227.58 L272.07,227.62 L272.46,227.80 L272.85,228.05 L273.24,228.32 L273.62,228.59 L274.01,228.82 L274.40,229.05 L274.77,229.16 L275.15,229.27 L275.52,229.38 L275.89,229.52 L276.26,229.69 L276.64,229.86 L277.01,230.02 L277.38,230.12 L277.75,230.19 L278.13,230.24 L278.50,230.28 L278.88,230.26 L279.26,230.15 L279.64,229.95 L280.02,229.69 L280.40,229.44 L280.78,229.16 L281.16,228.86 L281.54,228.54 L281.92,228.22 L282.30,227.90 L282.69,227.53 L283.08,227.06 L283.47,226.53 L283.86,225.96 L284.24,225.38 L284.63,224.82 L285.02,224.30 L285.41,223.85 L285.80,223.50 L286.17,223.22 L286.54,222.95 L286.91,222.68 L287.28,222.43 L287.65,222.20 L288.02,221.97 L288.39,221.78 L288.76,221.63 L289.13,221.54 L289.50,221.52 L289.88,221.53 L290.27,221.45 L290.65,221.34 L291.04,221.23 L291.42,221.17 L291.81,221.22 L292.19,221.26 L292.58,221.32 L292.96,221.31 L293.35,221.31 L293.73,221.31 L294.12,221.31 L294.50,221.32 L294.90,221.33 L295.30,221.34 L295.70,221.36 L296.10,221.39 L296.50,221.41 L296.89,221.33 L297.29,221.25 L297.69,221.17 L298.09,221.12 L298.49,221.07 L298.89,221.02 L299.29,221.01 L299.69,221.03 L300.09,221.05 L300.49,221.07 L300.89,221.09 L301.29,221.12 L301.68,221.14 L302.08,221.08 L302.48,221.03 L302.88,220.97 L303.28,221.03 L303.68,221.14 L304.08,221.25 L304.48,221.27 L304.88,221.16 L305.28,221.05 L305.68,220.96 L306.07,220.95 L306.47,220.95 L306.87,220.95 L307.27,221.09 L307.67,221.24 L308.07,221.39 L308.47,221.43 L308.87,221.41 L309.27,221.38 L309.67,221.33 L310.07,221.24 L310.46,221.14 L310.86,221.06 L311.26,221.08 L311.66,221.09 L312.06,221.11 L312.46,221.19 L312.86,221.27 L313.26,221.35 L313.66,221.36 L314.06,221.32 L314.46,221.29 L314.86,221.24 L315.25,221.18 L315.65,221.12 L316.05,221.07 L316.45,221.10 L316.85,221.14 L317.25,221.17 L317.65,221.23 L318.05,221.30 L318.45,221.37 L318.85,221.31 L319.25,221.16 L319.64,221.01 L320.04,220.98 L320.44,221.15 L320.84,221.32 L321.24,221.47 L321.64,221.39 L322.04,221.32 L322.44,221.25 L322.84,221.18 L323.24,221.12 L323.64,221.05 L324.04,221.08 L324.43,221.19 L324.83,221.30 L325.23,221.33 L325.63,221.20 L326.03,221.08 L326.43,220.97 L326.83,221.02 L327.23,221.08 L327.63,221.14 L328.03,221.17 L328.43,221.20 L328.82,221.23 L329.22,221.21 L329.62,221.15 L330.02,221.10 L330.42,221.09 L330.82,221.20 L331.22,221.31 L331.62,221.41 L332.02,221.38 L332.42,221.35 L332.82,221.32 L333.21,221.24 L333.61,221.15 L334.01,221.05 L334.41,221.01 L334.81,221.01 L335.21,221.01 L335.61,221.00 L336.01,220.99 L336.41,220.97 L336.81,220.96 L337.21,221.04 L337.61,221.13 L338.00,221.22 L338.40,221.19 L338.80,221.12 L339.20,221.06 L339.60,221.06 L340.00,221.12 L340.40,221.18 L340.79,221.24 L341.19,221.28 L341.59,221.33 L341.99,221.38 L342.38,221.39 L342.78,221.40 L343.18,221.41 L343.57,221.32 L343.97,221.19 L344.37,221.06 L344.77,221.00 L345.16,221.04 L345.56,221.07 L345.96,221.11 L346.35,221.12 L346.75,221.14 L347.15,221.15 L347.55,221.15 L347.94,221.14 L348.34,221.14 L348.74,221.14 L349.13,221.14 L349.53,221.15 L349.93,221.16 L350.33,221.16 L350.72,221.17 L351.12,221.18 L351.52,221.23 L351.92,221.28 L352.31,221.33 L352.71,221.28 L353.11,221.21 L353.50,221.13 L353.90,221.09 L354.30,221.10 L354.70,221.11 L355.09,221.11 L355.49,221.12 L355.89,221.13 L356.28,221.14 L356.68,221.10 L357.08,221.06 L357.48,221.02 L357.87,221.06 L358.27,221.14 L358.67,221.22 L359.06,221.26 L359.46,221.22 L359.86,221.18 L360.26,221.16 L360.65,221.24 L361.05,221.33 L361.45,221.42 L361.84,221.42 L362.24,221.40 L362.64,221.39 L363.04,221.32 L363.43,221.22 L363.83,221.12 L364.23,221.05 L364.62,221.05 L365.02,221.05 L365.42,221.06 L365.82,221.15 L366.21,221.24 L366.61,221.34 L367.01,221.33 L367.40,221.29 L367.80,221.25 L368.20,221.19 L368.60,221.09 L368.99,221.00 L369.39,220.95 L369.79,221.06 L370.18,221.16 L370.58,221.27 L370.98,221.23 L371.38,221.19 L371.77,221.15 L372.17,221.19 L372.57,221.25 L372.97,221.32 L373.36,221.36 L373.76,221.35 L374.16,221.34 L374.55,221.34 L374.95,221.37 L375.35,221.40 L375.75,221.43 L376.14,221.40 L376.54,221.37 L376.94,221.33 L377.33,221.33 L377.73,221.37 L378.13,221.41 L378.53,221.40 L378.92,221.29 L379.32,221.18 L379.72,221.08 L380.11,221.09 L380.51,221.10 L380.91,221.11 L381.31,221.07 L381.70,221.03 L382.10,221.08 L382.48,221.40 L382.85,221.85 L383.23,222.30 L383.60,222.68 L384.00,222.22 L384.40,221.60 L384.80,220.98 L385.20,220.57 L385.57,220.98 L385.94,221.71 L386.31,222.71 L386.69,223.79 L387.06,224.79 L387.43,225.52 L387.80,225.82 L388.18,225.75 L388.56,225.51 L388.93,225.19 L389.31,224.81 L389.69,224.40 L390.07,223.99 L390.44,223.61 L390.82,223.30 L391.20,223.06 L391.59,222.88 L391.97,222.77 L392.36,222.66 L392.75,222.56 L393.14,222.41 L393.52,222.28 L393.91,222.15 L394.30,222.07 L394.69,222.01 L395.07,221.96 L395.46,221.92 L395.85,221.89 L396.24,221.87 L396.62,221.85 L397.01,221.73 L397.40,221.60 L397.79,221.47 L398.19,221.50 L398.58,221.57 L398.98,221.65 L399.37,221.65 L399.77,221.55 L400.16,221.44 L400.56,221.34 L400.95,221.27 L401.34,221.20 L401.74,221.13 L402.13,221.16 L402.53,221.21 L402.92,221.28 L403.32,221.24 L403.71,221.11 L404.11,220.99 L404.50,220.91 L404.90,220.94 L405.30,220.97 L405.69,221.00 L406.09,221.10 L406.49,221.21 L406.89,221.31 L407.29,221.26 L407.68,221.14 L408.08,221.02 L408.48,220.99 L408.88,221.08 L409.27,221.16 L409.67,221.21 L410.07,221.10 L410.47,220.99 L410.87,220.87 L411.26,220.94 L411.66,221.01 L412.06,221.09 L412.46,221.13 L412.86,221.15 L413.25,221.18 L413.65,221.16 L414.05,221.08 L414.45,221.01 L414.85,220.94 L415.24,220.96 L415.64,220.98 L416.04,221.00 L416.44,221.04 L416.84,221.07 L417.23,221.11 L417.63,221.13 L418.03,221.14 L418.43,221.15 L418.82,221.13 L419.22,221.05 L419.62,220.98 L420.02,220.91 L420.42,220.95 L420.81,221.00 L421.21,221.04 L421.61,221.13 L422.01,221.23 L422.41,221.33 L422.80,221.32 L423.20,221.20 L423.60,221.09 L424.00,221.02 L424.40,221.10 L424.79,221.18 L425.19,221.26 L425.59,221.16 L425.99,221.06 L426.39,220.96 L426.78,220.96 L427.18,221.01 L427.58,221.05 L427.98,221.08 L428.38,221.09 L428.77,221.10 L429.17,221.11 L429.57,221.13 L429.97,221.14 L430.36,221.15 L430.76,221.17 L431.16,221.19 L431.56,221.21 L431.96,221.23 L432.35,221.24 L432.75,221.26 L433.15,221.26 L433.55,221.24 L433.95,221.23 L434.34,221.21 L434.74,221.23 L435.14,221.25 L435.54,221.27 L435.94,221.28 L436.33,221.30 L436.73,221.31 L437.13,221.26 L437.53,221.16 L437.93,221.07 L438.32,221.03 L438.72,221.12 L439.12,221.20 L439.52,221.28 L439.91,221.23 L440.31,221.18 L440.71,221.12 L441.11,221.08 L441.51,221.03 L441.90,220.99 L442.30,220.96 L442.70,220.94 L443.10,220.93 L443.50,220.94 L443.89,221.04 L444.29,221.14 L444.69,221.25 L445.09,221.23 L445.49,221.20 L445.88,221.18 L446.28,221.11 L446.68,221.01 L447.08,220.91 L447.48,220.90 L447.87,220.99 L448.27,221.08 L448.67,221.13 L449.07,221.04 L449.46,220.95 L449.86,220.85 L450.26,220.90 L450.66,220.96 L451.06,221.02 L451.45,221.06 L451.85,221.09 L452.25,221.12 L452.65,221.14 L453.05,221.16 L453.44,221.17 L453.84,221.18 L454.24,221.09 L454.64,221.01 L455.04,220.92 L455.43,220.89 L455.83,220.87 L456.23,220.85 L456.63,220.90 L457.02,220.99 L457.42,221.08 L457.82,221.16 L458.22,221.20 L458.62,221.24 L459.01,221.28 L459.41,221.27 L459.81,221.27 L460.21,221.27 L460.61,221.21 L461.00,221.13 L461.40,221.06 L461.80,221.04 L462.20,221.07 L462.60,221.10 L463.00,221.11 L463.40,221.12 L463.80,221.12 L464.20,221.13 L464.60,221.15 L465.00,221.15 L465.37,221.16 L465.73,221.24 L466.10,221.44 L466.47,221.71 L466.83,221.99 L467.20,222.26 L467.57,222.50 L467.93,222.74 L468.30,222.86 L468.67,222.70 L469.04,222.53 L469.41,222.34 L469.78,222.14 L470.15,221.90 L470.52,221.66 L470.89,221.43 L471.26,221.22 L471.63,221.07 L472.00,221.00 L472.38,221.06 L472.75,221.13 L473.12,221.20 L473.50,221.24 L473.88,221.27 L474.25,221.29 L474.62,221.31 L475.00,221.23 L475.39,221.20 L475.78,221.32 L476.18,221.57 L476.57,221.88 L476.96,222.23 L477.35,222.60 L477.74,222.97 L478.13,223.32 L478.52,223.63 L478.92,223.86 L479.31,224.00 L479.70,224.09 L480.09,224.02 L480.48,223.82 L480.87,223.52 L481.26,223.16 L481.64,222.78 L482.03,222.41 L482.42,222.08 L482.81,221.82 L483.20,221.63 L483.60,221.51 L484.00,221.49 L484.40,221.49 L484.80,221.49 L485.20,221.47 L485.60,221.44 L486.00,221.40 L486.40,221.37 L486.80,221.33 L487.20,221.29 L487.60,221.26 L488.00,221.25 L488.40,221.25 L488.80,221.25 L489.20,221.21 L489.60,221.16 L490.00,221.10 L490.40,221.11 L490.79,221.18 L491.17,221.25 L491.56,221.32 L491.94,221.31 L492.33,221.32 L492.71,221.34 L493.10,221.43 L493.49,221.53 L493.87,221.64 L494.26,221.72 L494.64,221.77 L495.03,221.81 L495.41,221.87 L495.80,222.00 L496.19,222.13 L496.57,222.26 L496.96,222.34 L497.34,222.39 L497.73,222.44 L498.11,222.50 L498.50,222.58 L498.89,222.67 L499.28,222.76 L499.67,222.94 L500.06,223.12 L500.45,223.31 L500.84,223.41 L501.23,223.48 L501.62,223.54 L502.01,223.62 L502.40,223.71 L502.80,223.81 L503.19,223.91 L503.58,224.08 L503.97,224.25 L504.36,224.42 L504.75,224.58 L505.14,224.74 L505.53,224.89 L505.92,225.04 L506.31,225.16 L506.70,225.28 L507.09,225.40 L507.48,225.55 L507.87,225.70 L508.26,225.86 L508.65,226.00 L509.04,226.15 L509.43,226.29 L509.82,226.43 L510.21,226.55 L510.60,226.68 L511.00,226.81 L511.39,226.96 L511.78,227.10 L512.17,227.25 L512.56,227.40 L512.95,227.55 L513.34,227.70 L513.73,227.85 L514.12,228.02 L514.51,228.19 L514.90,228.36 L515.30,228.54 L515.70,228.72 L516.10,228.91 L516.50,229.09 L516.90,229.27 L517.30,229.45 L517.70,229.59 L518.10,229.71 L518.50,229.82 L518.90,229.96 L519.30,230.17 L519.69,230.37 L520.08,230.57 L520.47,230.73 L520.87,230.88 L521.26,231.03 L521.65,231.19 L522.04,231.34 L522.43,231.49 L522.83,231.63 L523.22,231.76 L523.61,231.88 L524.00,232.00 L524.39,232.15 L524.78,232.30 L525.17,232.45 L525.57,232.63 L525.96,232.82 L526.35,233.01 L526.74,233.19 L527.13,233.33 L527.53,233.48 L527.92,233.63 L528.31,233.76 L528.70,233.89 L529.09,234.03 L529.48,234.16 L529.86,234.30 L530.25,234.44 L530.64,234.57 L531.03,234.68 L531.41,234.79 L531.80,234.90 L532.19,235.11 L532.58,235.31 L532.96,235.51 L533.35,235.66 L533.74,235.79 L534.12,235.91 L534.51,236.05 L534.90,236.20 L535.29,236.35 L535.67,236.50 L536.06,236.64 L536.45,236.79 L536.84,236.94 L537.23,237.09 L537.61,237.24 L538.00,237.41 L538.39,237.59 L538.78,237.79 L539.17,238.00 L539.57,238.22 L539.96,238.42 L540.35,238.64 L540.74,238.87 L541.13,239.11 L541.52,239.35 L541.92,239.60 L542.31,239.85 L542.70,240.10 L543.09,240.36 L543.48,240.61 L543.88,240.87 L544.27,241.13 L544.66,241.40 L545.05,241.66 L545.44,241.92 L545.83,242.18 L546.23,242.44 L546.62,242.69 L547.01,242.95 L547.40,243.20 L547.79,243.46 L548.18,243.72 L548.57,244.00 L548.96,244.29 L549.35,244.58 L549.74,244.87 L550.13,245.17 L550.52,245.47 L550.91,245.77 L551.30,246.06 L551.70,246.35 L552.09,246.64 L552.48,246.91 L552.87,247.18 L553.26,247.43 L553.65,247.67 L554.04,247.88 L554.43,248.08 L554.82,248.28 L555.21,248.47 L555.60,248.64 L555.99,248.79 L556.38,248.94 L556.77,249.04 L557.16,249.12 L557.54,249.20 L557.93,249.29 L558.32,249.43 L558.71,249.56 L559.10,249.69 L559.49,249.83 L559.88,249.98 L560.27,250.12 L560.66,250.18 L561.04,250.17 L561.43,250.14 L561.82,250.14 L562.21,250.25 L562.60,250.35 L562.99,250.41 L563.38,250.34 L563.77,250.25 L564.16,250.14 L564.54,250.01 L564.93,249.87 L565.32,249.71 L565.71,249.56 L566.10,249.42 L566.49,249.28 L566.88,249.12 L567.27,248.92 L567.66,248.73 L568.04,248.53 L568.43,248.36 L568.82,248.20 L569.21,248.05 L569.60,247.91 L569.99,247.75 L570.37,247.58 L570.76,247.39 L571.14,247.18 L571.53,246.96 L571.91,246.74 L572.30,246.52 L572.69,246.30 L573.07,246.07 L573.46,245.83 L573.84,245.59 L574.23,245.35 L574.61,245.10 L575.00,244.86 L575.39,244.61 L575.77,244.37 L576.16,244.13 L576.54,243.89 L576.93,243.66 L577.31,243.42 L577.70,243.20 L578.09,242.98 L578.48,242.77 L578.87,242.55 L579.26,242.33 L579.64,242.11 L580.03,241.89 L580.42,241.68 L580.81,241.47 L581.20,241.25 L581.59,241.04 L581.98,240.82 L582.37,240.59 L582.76,240.37 L583.14,240.15 L583.53,239.92 L583.92,239.68 L584.31,239.44 L584.70,239.20 L585.09,238.95 L585.49,238.70 L585.88,238.46 L586.27,238.21 L586.67,237.95 L587.06,237.70 L587.45,237.44 L587.85,237.17 L588.24,236.89 L588.63,236.61 L589.03,236.31 L589.42,236.01 L589.81,235.69 L590.21,235.35 L590.60,235.00 L590.99,234.62 L591.38,234.21 L591.77,233.77 L592.17,233.31 L592.56,232.82 L592.95,232.32 L593.34,231.81 L593.73,231.28 L594.12,230.76 L594.52,230.23 L594.91,229.71 L595.30,229.20 L595.69,228.68 L596.08,228.14 L596.47,227.58 L596.86,227.02 L597.24,226.47 L597.63,225.93 L598.02,225.41 L598.41,224.93 L598.80,224.50 L599.19,224.08 L599.58,223.63 L599.97,223.18 L600.36,222.75 L600.74,222.35 L601.13,222.01 L601.52,221.74 L601.91,221.55 L602.30,221.45 L602.69,221.43 L603.08,221.47 L603.47,221.58 L603.86,221.73 L604.24,221.88 L604.63,222.03 L605.02,222.17 L605.41,222.31 L605.80,222.43 L606.19,222.40 L606.58,222.31 L606.97,222.22 L607.36,222.14 L607.74,222.06 L608.13,221.98 L608.52,221.90 L608.91,221.87 L609.30,221.85 L609.69,221.82 L610.08,221.81 L610.47,221.82 L610.86,221.83 L611.24,221.84 L611.63,221.85 L612.02,221.87 L612.41,221.90 L612.80,221.82 L613.18,221.79 L613.56,221.88 L613.95,222.08 L614.33,222.33 L614.71,222.61 L615.09,222.89 L615.47,223.17 L615.85,223.42 L616.24,223.66 L616.62,223.80 L617.00,223.76 L617.40,223.65 L617.80,223.56 L618.20,223.36 L618.60,223.09 L619.00,222.78 L619.40,222.48 L619.80,222.19 L620.20,221.95 L620.60,221.76 L621.00,221.65 L621.39,221.60 L621.77,221.61 L622.16,221.66 L622.55,221.71 L622.93,221.71 L623.32,221.61 L623.71,221.51 L624.09,221.42 L624.48,221.39 L624.87,221.36 L625.25,221.33 L625.64,221.33 L626.03,221.34 L626.41,221.35 L626.80,221.38 L627.20,221.45 L627.60,221.52 L628.00,221.60 L628.39,221.50 L628.79,221.40 L629.19,221.30 L629.59,221.32 L629.99,221.38 L630.39,221.44 L630.79,221.46 L631.19,221.42 L631.58,221.38 L631.98,221.36 L632.38,221.42 L632.78,221.47 L633.18,221.52 L633.58,221.46 L633.98,221.39 L634.38,221.32 L634.77,221.37 L635.17,221.48 L635.57,221.59 L635.97,221.66 L636.37,221.69 L636.77,221.72 L637.17,221.72 L637.57,221.62 L637.96,221.51 L638.36,221.41 L638.76,221.40 L639.16,221.41 L639.56,221.42 L639.96,221.45 L640.36,221.49 L640.76,221.53 L641.15,221.56 L641.55,221.59 L641.95,221.61 L642.35,221.62 L642.75,221.50 L643.15,221.39 L643.55,221.27 L643.95,221.34 L644.34,221.45 L644.74,221.56 L645.14,221.61 L645.54,221.64 L645.94,221.66 L646.34,221.67 L646.74,221.67 L647.14,221.67 L647.53,221.66 L647.93,221.60 L648.33,221.54 L648.73,221.48 L649.13,221.52 L649.53,221.59 L649.93,221.65 L650.33,221.65 L650.72,221.61 L651.12,221.56 L651.52,221.51 L651.92,221.45 L652.32,221.38 L652.72,221.33 L653.12,221.34 L653.52,221.36 L653.91,221.38 L654.31,221.42 L654.71,221.47 L655.11,221.53 L655.51,221.55 L655.91,221.54 L656.31,221.53 L656.71,221.54 L657.10,221.58 L657.50,221.63 L657.90,221.67 L658.30,221.65" fill="none" stroke="#1AA7E3" stroke-width="1.75" stroke-linejoin="round" stroke-linecap="round"/>
<path d="M68.30,249.00 L68.35,250.47 L68.39,251.95 L68.44,253.44 L68.49,254.92 L68.53,256.42 L68.58,257.91 L68.63,259.40 L68.67,260.88 L68.72,262.36 L68.77,263.83 L68.81,265.29 L68.86,266.74 L68.91,268.18 L68.95,269.60 L69.00,271.00 L69.05,272.57 L69.10,274.15 L69.16,275.74 L69.21,277.33 L69.26,278.92 L69.31,280.51 L69.37,282.10 L69.42,283.68 L69.47,285.24 L69.52,286.79 L69.58,288.33 L69.63,289.84 L69.68,291.33 L69.73,292.79 L69.79,294.22 L69.84,295.62 L69.89,296.98 L69.94,298.31 L70.00,299.58 L70.05,300.82 L70.10,302.00 L70.18,303.75 L70.26,305.52 L70.34,307.29 L70.41,309.04 L70.49,310.76 L70.57,312.43 L70.65,314.04 L70.73,315.56 L70.81,316.98 L70.89,318.29 L70.96,319.46 L71.04,320.48 L71.12,321.33 L71.20,322.00 L71.47,323.91 L71.75,325.50 L72.03,326.59 L72.30,327.00 L72.44,326.73 L72.59,325.97 L72.73,324.82 L72.87,323.36 L73.01,321.68 L73.16,319.86 L73.30,318.00 L73.36,317.10 L73.42,316.03 L73.49,314.81 L73.55,313.46 L73.61,312.01 L73.67,310.46 L73.74,308.85 L73.80,307.19 L73.86,305.50 L73.92,303.80 L73.99,302.11 L74.05,300.45 L74.11,298.84 L74.17,297.30 L74.24,295.85 L74.30,294.50 L74.38,292.84 L74.46,291.18 L74.54,289.55 L74.62,287.93 L74.71,286.34 L74.79,284.77 L74.87,283.22 L74.95,281.71 L75.03,280.23 L75.11,278.78 L75.19,277.37 L75.27,276.00 L75.36,274.68 L75.44,273.40 L75.52,272.18 L75.60,271.00 L75.72,269.31 L75.84,267.64 L75.96,266.01 L76.08,264.43 L76.20,262.92 L76.32,261.50 L76.44,260.18 L76.56,258.98 L76.68,257.92 L76.80,257.00 L77.07,255.17 L77.33,253.44 L77.60,251.91 L77.87,250.65 L78.13,249.75 L78.40,249.30 L78.76,249.06 L79.12,248.84 L79.48,248.67 L79.84,248.60 L80.20,248.62 L80.53,248.72 L80.85,248.95 L81.17,249.20 L81.50,249.43 L81.88,249.23 L82.25,248.95 L82.62,248.72 L83.00,248.60 L83.40,249.23 L83.80,250.73 L84.20,252.51 L84.60,254.00 L84.98,255.03 L85.36,255.98 L85.74,256.87 L86.12,257.77 L86.50,258.70 L86.88,259.60 L87.25,260.47 L87.62,261.44 L88.00,262.60 L88.27,263.62 L88.53,264.82 L88.80,266.18 L89.07,267.69 L89.33,269.34 L89.60,271.10 L89.75,272.19 L89.90,273.42 L90.05,274.75 L90.20,276.16 L90.35,277.64 L90.50,279.16 L90.65,280.69 L90.80,282.23 L90.95,283.74 L91.10,285.20 L91.25,286.61 L91.39,288.07 L91.54,289.55 L91.68,291.05 L91.83,292.54 L91.97,294.02 L92.12,295.47 L92.26,296.88 L92.41,298.23 L92.55,299.51 L92.70,300.70 L92.90,302.36 L93.10,304.13 L93.30,305.90 L93.50,307.57 L93.70,309.05 L93.90,310.23 L94.10,311.02 L94.30,311.28 L94.60,310.94 L94.90,309.97 L95.20,308.60 L95.50,307.00 L95.62,306.20 L95.74,305.17 L95.87,303.93 L95.99,302.54 L96.11,301.03 L96.23,299.43 L96.36,297.79 L96.48,296.13 L96.60,294.50 L96.69,293.26 L96.78,291.94 L96.88,290.57 L96.97,289.14 L97.06,287.68 L97.15,286.20 L97.24,284.70 L97.33,283.20 L97.42,281.70 L97.52,280.23 L97.61,278.79 L97.70,277.40 L97.80,275.88 L97.90,274.32 L98.00,272.73 L98.10,271.14 L98.20,269.56 L98.30,268.00 L98.40,266.49 L98.50,265.04 L98.60,263.67 L98.70,262.39 L98.80,261.23 L98.90,260.20 L99.09,258.46 L99.27,256.83 L99.46,255.31 L99.64,253.94 L99.83,252.73 L100.01,251.71 L100.20,250.90 L100.50,249.78 L100.80,248.78 L101.10,248.07 L101.40,247.95 L101.75,248.01 L102.10,248.56 L102.45,249.31 L102.80,250.10 L103.12,251.02 L103.44,252.23 L103.76,253.53 L104.08,254.72 L104.40,255.60 L104.80,256.43 L105.20,257.12 L105.60,257.35 L105.98,257.29 L106.36,257.01 L106.74,256.69 L107.12,256.43 L107.50,256.33 L107.88,256.44 L108.25,256.80 L108.62,257.31 L109.00,257.90 L109.40,258.82 L109.80,260.17 L110.20,261.76 L110.60,263.40 L110.87,264.57 L111.13,265.88 L111.40,267.27 L111.67,268.65 L111.93,269.95 L112.20,271.10 L112.58,272.65 L112.95,274.17 L113.33,275.41 L113.70,276.10 L114.10,276.43 L114.50,276.71 L114.90,276.94 L115.30,277.16 L115.70,277.35 L116.08,277.19 L116.46,277.01 L116.84,276.85 L117.22,276.74 L117.60,276.67 L117.92,276.72 L118.24,277.06 L118.56,277.57 L118.88,278.20 L119.20,278.90 L119.45,279.67 L119.70,280.77 L119.95,282.12 L120.20,283.62 L120.45,285.18 L120.70,286.70 L120.90,287.92 L121.10,289.20 L121.30,290.54 L121.50,291.92 L121.70,293.33 L121.90,294.76 L122.10,296.18 L122.30,297.60 L122.49,298.96 L122.67,300.40 L122.86,301.87 L123.05,303.33 L123.24,304.76 L123.42,306.12 L123.61,307.38 L123.80,308.50 L124.10,310.26 L124.40,312.05 L124.70,313.64 L125.00,314.77 L125.30,315.20 L125.58,314.77 L125.85,313.62 L126.12,311.99 L126.40,310.10 L126.50,309.26 L126.60,308.17 L126.70,306.89 L126.80,305.46 L126.90,303.92 L127.00,302.32 L127.10,300.71 L127.20,299.12 L127.30,297.60 L127.39,296.23 L127.48,294.82 L127.58,293.37 L127.67,291.91 L127.76,290.43 L127.85,288.94 L127.95,287.45 L128.04,285.97 L128.13,284.50 L128.22,283.05 L128.32,281.63 L128.41,280.24 L128.50,278.90 L128.61,277.35 L128.72,275.81 L128.82,274.27 L128.93,272.75 L129.04,271.25 L129.15,269.77 L129.26,268.33 L129.37,266.92 L129.48,265.56 L129.58,264.25 L129.69,262.99 L129.80,261.80 L129.95,260.16 L130.10,258.51 L130.25,256.88 L130.40,255.33 L130.55,253.90 L130.70,252.66 L130.85,251.64 L131.00,250.90 L131.35,249.60 L131.70,248.52 L132.05,247.78 L132.40,247.40 L132.80,247.72 L133.20,248.32 L133.60,249.15 L134.00,250.10 L134.30,251.03 L134.60,252.29 L134.90,253.79 L135.20,255.43 L135.50,257.10 L135.70,258.26 L135.90,259.51 L136.10,260.84 L136.30,262.23 L136.50,263.66 L136.70,265.11 L136.90,266.56 L137.10,268.00 L137.29,269.38 L137.48,270.78 L137.68,272.20 L137.87,273.64 L138.06,275.09 L138.25,276.55 L138.44,278.01 L138.63,279.47 L138.82,280.92 L139.02,282.36 L139.21,283.79 L139.40,285.20 L139.60,286.66 L139.80,288.11 L140.00,289.55 L140.20,290.99 L140.40,292.43 L140.60,293.86 L140.80,295.28 L141.00,296.69 L141.20,298.10 L141.40,299.51 L141.60,300.91 L141.80,302.30 L142.01,303.74 L142.22,305.15 L142.43,306.55 L142.64,307.94 L142.85,309.32 L143.05,310.71 L143.26,312.10 L143.47,313.51 L143.68,314.94 L143.89,316.40 L144.10,317.90 L144.28,319.25 L144.47,320.62 L144.65,322.03 L144.83,323.45 L145.02,324.89 L145.20,326.34 L145.38,327.80 L145.57,329.26 L145.75,330.71 L145.93,332.16 L146.12,333.59 L146.30,335.00 L146.48,336.37 L146.66,337.72 L146.85,339.06 L147.03,340.38 L147.21,341.70 L147.39,343.03 L147.57,344.37 L147.75,345.73 L147.94,347.11 L148.12,348.54 L148.30,350.00 L148.45,351.27 L148.61,352.55 L148.76,353.84 L148.92,355.15 L149.07,356.49 L149.22,357.84 L149.38,359.21 L149.53,360.61 L149.68,362.03 L149.84,363.48 L149.99,364.96 L150.15,366.46 L150.30,368.00 L150.43,369.30 L150.55,370.66 L150.68,372.07 L150.80,373.52 L150.93,374.99 L151.05,376.48 L151.18,377.97 L151.30,379.45 L151.43,380.90 L151.55,382.32 L151.68,383.69 L151.80,385.00 L151.96,386.55 L152.11,388.04 L152.27,389.49 L152.42,390.90 L152.58,392.30 L152.73,393.69 L152.89,395.10 L153.04,396.53 L153.20,398.00 L153.35,399.42 L153.49,400.86 L153.64,402.33 L153.78,403.81 L153.93,405.30 L154.07,406.79 L154.22,408.28 L154.36,409.75 L154.51,411.20 L154.65,412.62 L154.80,414.00 L154.97,415.58 L155.14,417.14 L155.31,418.69 L155.48,420.22 L155.65,421.74 L155.82,423.24 L155.98,424.73 L156.15,426.20 L156.32,427.65 L156.49,429.09 L156.66,430.51 L156.83,431.91 L157.00,433.30 L157.19,434.88 L157.38,436.46 L157.58,438.05 L157.77,439.63 L157.96,441.20 L158.15,442.75 L158.35,444.27 L158.54,445.75 L158.73,447.18 L158.92,448.56 L159.12,449.88 L159.31,451.13 L159.50,452.30 L159.81,454.10 L160.12,455.82 L160.43,457.48 L160.74,459.06 L161.06,460.56 L161.37,461.97 L161.68,463.28 L161.99,464.49 L162.30,465.60 L162.66,466.79 L163.03,467.91 L163.39,468.96 L163.75,469.94 L164.11,470.85 L164.47,471.70 L164.84,472.48 L165.20,473.20 L165.55,473.86 L165.90,474.49 L166.25,475.10 L166.60,475.67 L166.95,476.19 L167.30,476.66 L167.65,477.06 L168.00,477.40 L168.36,477.71 L168.71,478.01 L169.07,478.29 L169.43,478.53 L169.79,478.72 L170.14,478.89 L170.50,478.94 L170.88,478.82 L171.27,478.68 L171.65,478.55 L172.03,478.39 L172.42,478.16 L172.80,477.90 L173.20,477.49 L173.60,476.86 L174.00,476.06 L174.40,475.15 L174.80,474.16 L175.20,473.16 L175.60,472.20 L175.98,471.29 L176.36,470.33 L176.74,469.32 L177.12,468.28 L177.50,467.21 L177.88,466.12 L178.26,465.03 L178.64,463.94 L179.02,462.86 L179.40,461.80 L179.80,460.69 L180.20,459.58 L180.60,458.47 L181.00,457.34 L181.40,456.22 L181.80,455.10 L182.20,453.98 L182.60,452.87 L183.00,451.76 L183.40,450.66 L183.80,449.58 L184.20,448.50 L184.57,447.51 L184.94,446.53 L185.31,445.54 L185.68,444.56 L186.05,443.59 L186.42,442.62 L186.78,441.65 L187.15,440.70 L187.52,439.75 L187.89,438.82 L188.26,437.90 L188.63,436.99 L189.00,436.10 L189.39,435.18 L189.78,434.30 L190.18,433.45 L190.57,432.62 L190.96,431.80 L191.35,430.98 L191.74,430.15 L192.13,429.31 L192.52,428.44 L192.92,427.54 L193.31,426.60 L193.70,425.60 L194.08,424.65 L194.46,423.72 L194.84,422.69 L195.22,421.46 L195.60,419.90 L195.76,419.00 L195.93,417.84 L196.09,416.46 L196.25,414.94 L196.41,413.33 L196.57,411.68 L196.74,410.05 L196.90,408.50 L197.05,407.17 L197.19,405.84 L197.34,404.51 L197.48,403.17 L197.63,401.82 L197.77,400.44 L197.92,399.04 L198.06,397.60 L198.21,396.12 L198.35,394.59 L198.50,393.00 L198.61,391.72 L198.72,390.37 L198.84,388.96 L198.95,387.51 L199.06,386.01 L199.17,384.47 L199.28,382.91 L199.39,381.34 L199.51,379.76 L199.62,378.19 L199.73,376.63 L199.84,375.08 L199.95,373.57 L200.06,372.10 L200.18,370.67 L200.29,369.30 L200.40,368.00 L200.55,366.31 L200.70,364.64 L200.85,363.00 L201.00,361.38 L201.15,359.78 L201.30,358.21 L201.45,356.66 L201.60,355.13 L201.75,353.62 L201.90,352.14 L202.05,350.69 L202.20,349.26 L202.35,347.85 L202.50,346.47 L202.65,345.11 L202.80,343.78 L202.95,342.47 L203.10,341.19 L203.25,339.93 L203.40,338.70 L203.60,337.10 L203.80,335.53 L204.00,334.01 L204.20,332.52 L204.40,331.06 L204.60,329.64 L204.80,328.26 L205.00,326.90 L205.20,325.57 L205.40,324.26 L205.60,322.99 L205.80,321.73 L206.00,320.50 L206.28,318.81 L206.56,317.16 L206.84,315.53 L207.11,313.94 L207.39,312.38 L207.67,310.84 L207.95,309.34 L208.23,307.87 L208.51,306.43 L208.79,305.02 L209.06,303.65 L209.34,302.30 L209.62,300.98 L209.90,299.70 L210.25,298.11 L210.61,296.55 L210.96,295.03 L211.32,293.56 L211.67,292.11 L212.03,290.71 L212.38,289.34 L212.74,288.01 L213.09,286.70 L213.45,285.44 L213.80,284.20 L214.20,282.84 L214.60,281.53 L215.00,280.25 L215.40,279.00 L215.80,277.78 L216.20,276.58 L216.60,275.41 L217.00,274.25 L217.40,273.11 L217.80,271.97 L218.20,270.85 L218.60,269.72 L219.00,268.60 L219.39,267.51 L219.78,266.43 L220.17,265.35 L220.56,264.29 L220.95,263.25 L221.34,262.21 L221.73,261.19 L222.12,260.18 L222.51,259.18 L222.90,258.20 L223.27,257.25 L223.63,256.27 L224.00,255.27 L224.37,254.29 L224.73,253.34 L225.10,252.45 L225.47,251.65 L225.83,250.95 L226.20,250.40 L226.58,249.90 L226.96,249.41 L227.34,249.00 L227.72,248.68 L228.10,248.53 L228.46,248.60 L228.81,248.69 L229.17,248.73 L229.52,248.78 L229.88,248.84 L230.23,248.89 L230.59,248.93 L230.94,248.98 L231.30,249.02 L231.69,249.03 L232.07,249.03 L232.46,249.05 L232.85,249.10 L233.23,249.23 L233.62,249.35 L234.01,249.47 L234.39,249.43 L234.78,249.39 L235.17,249.34 L235.55,249.37 L235.94,249.45 L236.33,249.52 L236.71,249.56 L237.10,249.56 L237.47,249.52 L237.85,249.40 L238.22,249.24 L238.60,249.05 L238.97,248.85 L239.35,248.67 L239.72,248.51 L240.10,248.40 L240.48,248.35 L240.86,248.36 L241.24,248.38 L241.62,248.42 L241.99,248.52 L242.37,248.67 L242.75,248.83 L243.13,248.97 L243.51,248.94 L243.89,248.91 L244.27,248.88 L244.65,248.92 L245.03,248.99 L245.41,249.06 L245.78,249.13 L246.16,249.23 L246.54,249.32 L246.92,249.40 L247.30,249.35 L247.69,249.24 L248.08,249.12 L248.46,249.05 L248.85,249.01 L249.24,248.96 L249.62,248.90 L250.01,248.85 L250.40,248.78 L250.79,248.71 L251.18,248.58 L251.56,248.44 L251.95,248.29 L252.34,248.16 L252.73,248.05 L253.11,247.95 L253.50,247.85 L253.89,247.82 L254.28,247.81 L254.66,247.81 L255.05,247.75 L255.44,247.67 L255.83,247.60 L256.21,247.53 L256.60,247.50 L256.95,247.67 L257.30,247.97 L257.65,248.40 L258.00,248.96 L258.35,249.64 L258.70,250.40 L258.90,251.05 L259.10,252.05 L259.30,253.33 L259.50,254.83 L259.70,256.49 L259.90,258.24 L260.10,260.02 L260.30,261.76 L260.50,263.40 L260.66,264.70 L260.82,266.07 L260.98,267.48 L261.15,268.93 L261.31,270.40 L261.47,271.89 L261.63,273.37 L261.79,274.84 L261.95,276.29 L262.12,277.70 L262.28,279.07 L262.44,280.37 L262.60,281.60 L262.83,283.29 L263.05,285.03 L263.27,286.74 L263.50,288.39 L263.73,289.91 L263.95,291.26 L264.17,292.37 L264.40,293.20 L264.72,294.15 L265.05,294.98 L265.38,295.57 L265.70,295.85 L266.05,295.51 L266.40,294.72 L266.75,293.59 L267.10,292.23 L267.45,290.79 L267.80,289.40 L268.10,288.18 L268.40,286.80 L268.70,285.31 L269.00,283.74 L269.30,282.13 L269.60,280.53 L269.90,278.97 L270.20,277.50 L270.49,276.13 L270.77,274.74 L271.06,273.35 L271.34,272.01 L271.63,270.73 L271.91,269.55 L272.20,268.50 L272.57,267.30 L272.93,266.19 L273.30,265.16 L273.67,264.21 L274.03,263.33 L274.40,262.50 L274.76,261.75 L275.11,261.05 L275.47,260.38 L275.82,259.75 L276.18,259.15 L276.53,258.56 L276.89,257.97 L277.24,257.39 L277.60,256.80 L277.98,256.15 L278.36,255.47 L278.74,254.79 L279.12,254.10 L279.50,253.44 L279.88,252.80 L280.26,252.21 L280.64,251.67 L281.02,251.19 L281.40,250.80 L281.77,250.46 L282.13,250.13 L282.50,249.80 L282.87,249.48 L283.23,249.17 L283.60,248.90 L283.97,248.64 L284.33,248.43 L284.70,248.24 L285.07,248.14 L285.43,248.13 L285.80,248.20 L286.19,248.22 L286.58,248.16 L286.97,248.11 L287.36,248.07 L287.74,248.07 L288.13,248.08 L288.52,248.09 L288.91,248.19 L289.30,248.32 L289.69,248.44 L290.08,248.50 L290.47,248.49 L290.86,248.49 L291.24,248.48 L291.63,248.55 L292.02,248.61 L292.41,248.68 L292.80,248.73 L293.20,248.79 L293.59,248.84 L293.99,248.91 L294.38,248.99 L294.78,249.07 L295.17,249.13 L295.57,249.10 L295.96,249.07 L296.36,249.04 L296.75,249.16 L297.15,249.30 L297.55,249.44 L297.94,249.50 L298.34,249.51 L298.73,249.51 L299.13,249.51 L299.52,249.51 L299.92,249.51 L300.31,249.50 L300.71,249.51 L301.10,249.51 L301.50,249.51 L301.89,249.58 L302.28,249.67 L302.67,249.73 L303.06,249.74 L303.44,249.68 L303.83,249.62 L304.22,249.55 L304.61,249.43 L305.00,249.32 L305.39,249.20 L305.78,249.09 L306.17,248.99 L306.56,248.90 L306.94,248.83 L307.33,248.82 L307.72,248.82 L308.11,248.81 L308.50,248.63 L308.89,248.45 L309.28,248.27 L309.67,248.17 L310.06,248.12 L310.44,248.07 L310.83,248.05 L311.22,248.08 L311.61,248.13 L312.00,248.19 L312.39,248.21 L312.78,248.23 L313.18,248.25 L313.57,248.20 L313.96,248.12 L314.35,248.03 L314.74,248.00 L315.13,248.04 L315.52,248.09 L315.92,248.13 L316.31,248.13 L316.70,248.14 L317.09,248.14 L317.48,248.17 L317.88,248.22 L318.27,248.27 L318.66,248.30 L319.05,248.31 L319.44,248.32 L319.83,248.33 L320.23,248.34 L320.62,248.35 L321.01,248.36 L321.40,248.38 L321.79,248.40 L322.18,248.41 L322.58,248.45 L322.97,248.50 L323.36,248.55 L323.75,248.59 L324.14,248.56 L324.53,248.53 L324.93,248.50 L325.32,248.58 L325.71,248.69 L326.10,248.80 L326.50,248.82 L326.90,248.75 L327.30,248.68 L327.70,248.60 L328.10,248.54 L328.50,248.48 L328.90,248.41 L329.30,248.47 L329.70,248.53 L330.10,248.58 L330.50,248.58 L330.90,248.56 L331.30,248.55 L331.70,248.49 L332.10,248.39 L332.50,248.29 L332.90,248.19 L333.30,248.10 L333.70,248.01 L334.10,247.92 L334.50,247.98 L334.90,248.03 L335.30,248.09 L335.70,248.09 L336.10,248.08 L336.50,248.06 L336.90,248.06 L337.30,248.05 L337.70,248.05 L338.10,248.04 L338.50,248.00 L338.90,247.96 L339.30,247.92 L339.70,247.90 L340.10,247.88 L340.50,247.86 L340.90,247.83 L341.29,247.80 L341.69,247.77 L342.09,247.75 L342.49,247.76 L342.88,247.76 L343.28,247.77 L343.68,247.77 L344.08,247.77 L344.48,247.78 L344.87,247.92 L345.27,248.06 L345.67,248.21 L346.07,248.25 L346.46,248.26 L346.86,248.26 L347.26,248.26 L347.66,248.27 L348.05,248.27 L348.45,248.28 L348.85,248.30 L349.25,248.32 L349.65,248.34 L350.04,248.40 L350.44,248.47 L350.84,248.54 L351.24,248.63 L351.63,248.74 L352.03,248.85 L352.43,248.91 L352.83,248.87 L353.23,248.83 L353.62,248.80 L354.02,248.81 L354.42,248.82 L354.82,248.82 L355.21,248.88 L355.61,248.96 L356.01,249.04 L356.41,249.08 L356.80,249.09 L357.20,249.10 L357.60,249.13 L358.00,249.20 L358.40,249.27 L358.79,249.35 L359.19,249.34 L359.59,249.33 L359.99,249.32 L360.38,249.32 L360.78,249.32 L361.18,249.32 L361.58,249.36 L361.98,249.45 L362.37,249.55 L362.77,249.62 L363.17,249.62 L363.57,249.61 L363.96,249.60 L364.36,249.50 L364.76,249.40 L365.16,249.29 L365.55,249.27 L365.95,249.30 L366.35,249.33 L366.75,249.36 L367.15,249.40 L367.54,249.44 L367.94,249.47 L368.34,249.42 L368.74,249.37 L369.13,249.32 L369.53,249.41 L369.93,249.53 L370.33,249.65 L370.73,249.71 L371.12,249.72 L371.52,249.72 L371.92,249.71 L372.32,249.63 L372.71,249.55 L373.11,249.48 L373.51,249.59 L373.91,249.69 L374.30,249.80 L374.70,249.78 L375.10,249.72 L375.48,249.64 L375.86,249.55 L376.24,249.46 L376.62,249.35 L377.01,249.23 L377.39,249.17 L377.77,249.10 L378.15,249.02 L378.53,248.93 L378.91,248.82 L379.29,248.73 L379.68,248.65 L380.06,248.58 L380.44,248.54 L380.82,248.52 L381.20,248.49 L381.56,248.60 L381.92,249.07 L382.28,249.63 L382.64,250.10 L383.00,250.52 L383.34,250.09 L383.68,249.60 L384.02,249.00 L384.36,248.51 L384.70,248.28 L385.09,248.49 L385.48,249.00 L385.86,249.72 L386.25,250.55 L386.64,251.38 L387.02,252.10 L387.41,252.61 L387.80,252.65 L388.18,252.67 L388.56,252.54 L388.93,252.26 L389.31,251.91 L389.69,251.53 L390.07,251.16 L390.44,250.80 L390.82,250.51 L391.20,250.26 L391.59,250.10 L391.98,249.98 L392.38,249.86 L392.77,249.72 L393.16,249.53 L393.55,249.33 L393.95,249.14 L394.34,249.03 L394.73,248.93 L395.12,248.85 L395.52,248.84 L395.91,248.87 L396.30,248.94 L396.70,248.98 L397.10,248.97 L397.50,248.96 L397.90,248.94 L398.30,248.93 L398.70,248.91 L399.10,248.90 L399.50,248.97 L399.90,249.05 L400.30,249.12 L400.70,249.08 L401.10,249.00 L401.50,248.93 L401.90,248.89 L402.30,248.91 L402.70,248.92 L403.10,248.94 L403.50,249.01 L403.90,249.07 L404.30,249.14 L404.70,249.09 L405.10,249.04 L405.50,248.99 L405.90,249.06 L406.30,249.17 L406.70,249.28 L407.10,249.36 L407.50,249.41 L407.90,249.46 L408.30,249.50 L408.70,249.49 L409.10,249.48 L409.50,249.46 L409.90,249.48 L410.30,249.50 L410.70,249.51 L411.09,249.41 L411.48,249.27 L411.88,249.13 L412.27,249.06 L412.66,249.10 L413.05,249.13 L413.45,249.16 L413.84,249.21 L414.23,249.25 L414.62,249.28 L415.02,249.25 L415.41,249.21 L415.80,249.17 L416.19,249.11 L416.58,249.04 L416.98,248.97 L417.37,248.91 L417.76,248.89 L418.15,248.87 L418.55,248.86 L418.94,248.79 L419.33,248.71 L419.72,248.63 L420.12,248.58 L420.51,248.57 L420.90,248.57 L421.30,248.56 L421.69,248.53 L422.09,248.50 L422.48,248.47 L422.88,248.61 L423.27,248.75 L423.67,248.89 L424.06,248.88 L424.46,248.78 L424.85,248.69 L425.25,248.68 L425.64,248.80 L426.04,248.93 L426.43,249.03 L426.83,248.88 L427.22,248.73 L427.62,248.58 L428.01,248.66 L428.41,248.80 L428.80,248.94 L429.20,249.00 L429.59,248.97 L429.99,248.93 L430.38,248.90 L430.78,248.83 L431.17,248.77 L431.57,248.71 L431.96,248.81 L432.36,248.92 L432.75,249.03 L433.15,249.09 L433.55,249.11 L433.94,249.13 L434.34,249.15 L434.73,249.16 L435.13,249.18 L435.52,249.19 L435.92,249.20 L436.31,249.22 L436.71,249.23 L437.10,249.24 L437.50,249.25 L437.89,249.26 L438.29,249.28 L438.68,249.31 L439.08,249.33 L439.47,249.34 L439.87,249.29 L440.26,249.24 L440.66,249.18 L441.05,249.27 L441.45,249.37 L441.84,249.48 L442.24,249.47 L442.63,249.40 L443.03,249.33 L443.42,249.27 L443.82,249.24 L444.21,249.20 L444.61,249.17 L445.00,249.30 L445.40,249.42 L445.80,249.54 L446.19,249.48 L446.59,249.35 L446.99,249.23 L447.38,249.17 L447.78,249.18 L448.18,249.20 L448.57,249.21 L448.97,249.24 L449.37,249.26 L449.76,249.28 L450.16,249.28 L450.56,249.28 L450.95,249.28 L451.35,249.22 L451.75,249.12 L452.15,249.03 L452.54,248.94 L452.94,248.88 L453.34,248.82 L453.73,248.76 L454.13,248.83 L454.53,248.90 L454.92,248.98 L455.32,248.98 L455.72,248.97 L456.11,248.97 L456.51,248.97 L456.91,248.99 L457.30,249.01 L457.70,249.01 L458.09,248.93 L458.48,248.88 L458.88,248.85 L459.27,248.96 L459.66,249.09 L460.05,249.22 L460.45,249.30 L460.84,249.37 L461.23,249.44 L461.62,249.52 L462.02,249.62 L462.41,249.72 L462.80,249.81 L463.19,249.89 L463.58,250.02 L463.98,250.20 L464.37,250.41 L464.76,250.66 L465.15,250.92 L465.55,251.18 L465.94,251.43 L466.33,251.67 L466.72,251.89 L467.12,252.09 L467.51,252.27 L467.90,252.43 L468.28,252.45 L468.66,252.43 L469.04,252.40 L469.42,252.41 L469.81,252.51 L470.19,252.60 L470.57,252.70 L470.95,252.76 L471.33,252.81 L471.71,252.85 L472.09,252.89 L472.48,252.92 L472.86,252.94 L473.24,252.96 L473.62,252.90 L474.00,252.84 L474.38,252.79 L474.76,252.82 L475.14,252.89 L475.52,252.95 L475.91,253.03 L476.29,253.16 L476.67,253.28 L477.05,253.41 L477.43,253.44 L477.81,253.46 L478.19,253.47 L478.58,253.44 L478.96,253.37 L479.34,253.30 L479.72,253.21 L480.10,253.27 L480.47,253.31 L480.85,253.26 L481.22,253.13 L481.59,252.94 L481.96,252.71 L482.34,252.47 L482.71,252.22 L483.08,251.96 L483.45,251.72 L483.83,251.51 L484.20,251.32 L484.60,251.11 L485.00,250.89 L485.40,250.67 L485.80,250.44 L486.20,250.21 L486.60,249.98 L487.00,249.75 L487.40,249.53 L487.80,249.30 L488.20,249.08 L488.60,248.87 L489.00,248.67 L489.40,248.51 L489.80,248.36 L490.20,248.24 L490.60,248.12 L491.00,248.02 L491.40,247.96 L491.79,248.09 L492.18,248.24 L492.58,248.38 L492.97,248.48 L493.36,248.57 L493.75,248.68 L494.15,248.78 L494.54,248.88 L494.93,248.97 L495.32,249.06 L495.72,249.20 L496.11,249.33 L496.50,249.45 L496.89,249.44 L497.28,249.38 L497.67,249.31 L498.06,249.27 L498.45,249.31 L498.84,249.34 L499.23,249.37 L499.62,249.45 L500.01,249.54 L500.40,249.62 L500.80,249.65 L501.19,249.66 L501.58,249.67 L501.97,249.65 L502.36,249.62 L502.75,249.58 L503.14,249.57 L503.53,249.72 L503.92,249.87 L504.31,250.02 L504.70,250.05 L505.09,250.06 L505.47,250.08 L505.86,250.14 L506.25,250.22 L506.63,250.31 L507.02,250.41 L507.41,250.50 L507.79,250.60 L508.18,250.71 L508.57,250.85 L508.95,251.00 L509.34,251.16 L509.73,251.31 L510.11,251.43 L510.50,251.55 L510.88,251.70 L511.26,251.90 L511.64,252.10 L512.01,252.32 L512.39,252.54 L512.77,252.77 L513.15,253.01 L513.53,253.26 L513.91,253.52 L514.29,253.78 L514.66,254.05 L515.04,254.33 L515.42,254.61 L515.80,254.90 L516.19,255.21 L516.59,255.53 L516.98,255.86 L517.37,256.20 L517.77,256.56 L518.16,256.93 L518.55,257.31 L518.95,257.70 L519.34,258.10 L519.73,258.51 L520.13,258.93 L520.52,259.36 L520.91,259.80 L521.31,260.25 L521.70,260.70 L522.09,261.16 L522.47,261.66 L522.86,262.17 L523.25,262.71 L523.63,263.27 L524.02,263.84 L524.41,264.41 L524.79,265.00 L525.18,265.58 L525.57,266.16 L525.95,266.74 L526.34,267.30 L526.73,267.86 L527.11,268.39 L527.50,268.90 L527.89,269.41 L528.29,269.93 L528.68,270.45 L529.07,270.97 L529.47,271.49 L529.86,272.01 L530.25,272.51 L530.65,273.01 L531.04,273.49 L531.43,273.95 L531.83,274.39 L532.22,274.81 L532.61,275.20 L533.01,275.57 L533.40,275.90 L533.79,276.20 L534.17,276.47 L534.56,276.72 L534.95,276.95 L535.33,277.18 L535.72,277.40 L536.11,277.58 L536.49,277.77 L536.88,277.95 L537.27,278.16 L537.65,278.38 L538.04,278.62 L538.43,278.86 L538.81,279.12 L539.20,279.40 L539.59,279.70 L539.97,280.01 L540.36,280.34 L540.75,280.67 L541.13,281.03 L541.52,281.39 L541.91,281.77 L542.29,282.16 L542.68,282.57 L543.07,282.99 L543.45,283.42 L543.84,283.87 L544.23,284.33 L544.61,284.81 L545.00,285.30 L545.39,285.83 L545.78,286.40 L546.17,287.01 L546.57,287.65 L546.96,288.33 L547.35,289.02 L547.74,289.73 L548.13,290.46 L548.53,291.20 L548.92,291.93 L549.31,292.67 L549.70,293.40 L550.09,294.14 L550.48,294.90 L550.88,295.68 L551.27,296.48 L551.66,297.28 L552.05,298.09 L552.44,298.90 L552.83,299.71 L553.23,300.51 L553.62,301.29 L554.01,302.06 L554.40,302.80 L554.79,303.53 L555.18,304.26 L555.58,304.99 L555.97,305.71 L556.36,306.43 L556.75,307.14 L557.14,307.83 L557.53,308.50 L557.92,309.16 L558.32,309.80 L558.71,310.41 L559.10,311.00 L559.48,311.57 L559.87,312.14 L560.25,312.72 L560.63,313.29 L561.02,313.85 L561.40,314.39 L561.78,314.90 L562.17,315.38 L562.55,315.82 L562.93,316.20 L563.32,316.53 L563.70,316.80 L564.09,317.04 L564.49,317.27 L564.88,317.49 L565.27,317.71 L565.67,317.92 L566.06,318.12 L566.45,318.32 L566.85,318.49 L567.24,318.66 L567.63,318.80 L568.03,318.93 L568.42,319.04 L568.81,319.13 L569.21,319.19 L569.60,319.19 L569.99,319.10 L570.37,319.00 L570.76,318.90 L571.15,318.81 L571.53,318.70 L571.92,318.56 L572.31,318.42 L572.69,318.26 L573.08,318.08 L573.47,317.88 L573.85,317.67 L574.24,317.45 L574.63,317.24 L575.01,317.02 L575.40,316.80 L575.79,316.58 L576.17,316.32 L576.56,316.04 L576.95,315.74 L577.33,315.42 L577.72,315.08 L578.11,314.74 L578.49,314.39 L578.88,314.03 L579.27,313.68 L579.65,313.34 L580.04,313.00 L580.43,312.68 L580.81,312.38 L581.20,312.10 L581.59,311.82 L581.99,311.53 L582.38,311.22 L582.78,310.91 L583.17,310.60 L583.57,310.29 L583.96,309.98 L584.36,309.68 L584.75,309.39 L585.14,309.12 L585.54,308.86 L585.93,308.63 L586.33,308.46 L586.72,308.29 L587.12,308.16 L587.51,308.06 L587.91,308.00 L588.30,307.97 L588.69,307.97 L589.08,308.06 L589.47,308.20 L589.86,308.40 L590.24,308.64 L590.63,308.91 L591.02,309.20 L591.41,309.50 L591.80,309.80 L592.19,310.19 L592.58,310.72 L592.97,311.34 L593.36,312.02 L593.74,312.70 L594.13,313.33 L594.52,313.87 L594.91,314.28 L595.30,314.52 L595.68,314.61 L596.07,314.66 L596.45,314.69 L596.83,314.72 L597.22,314.81 L597.60,314.90 L597.98,314.68 L598.37,314.10 L598.75,313.22 L599.13,312.16 L599.52,310.99 L599.90,309.80 L600.20,308.78 L600.50,307.56 L600.80,306.17 L601.10,304.66 L601.40,303.07 L601.70,301.41 L602.00,299.75 L602.30,298.10 L602.53,296.80 L602.76,295.41 L602.99,293.95 L603.22,292.46 L603.45,290.95 L603.68,289.45 L603.91,287.99 L604.14,286.60 L604.37,285.29 L604.60,284.10 L604.95,282.41 L605.30,280.76 L605.65,279.17 L606.00,277.64 L606.35,276.18 L606.70,274.79 L607.05,273.48 L607.40,272.25 L607.75,271.13 L608.10,270.10 L608.49,269.03 L608.88,268.00 L609.27,267.01 L609.67,266.06 L610.06,265.16 L610.45,264.31 L610.84,263.51 L611.23,262.75 L611.62,262.06 L612.02,261.41 L612.41,260.83 L612.80,260.30 L613.18,259.84 L613.57,259.41 L613.95,259.02 L614.33,258.65 L614.72,258.31 L615.10,257.99 L615.48,257.68 L615.87,257.37 L616.25,257.07 L616.63,256.76 L617.02,256.44 L617.40,256.10 L617.79,255.74 L618.18,255.38 L618.58,255.00 L618.97,254.63 L619.36,254.26 L619.75,253.89 L620.14,253.53 L620.53,253.17 L620.92,252.83 L621.32,252.50 L621.71,252.19 L622.10,251.90 L622.49,251.62 L622.88,251.32 L623.27,251.03 L623.67,250.74 L624.06,250.46 L624.45,250.19 L624.84,249.93 L625.23,249.72 L625.62,249.53 L626.02,249.33 L626.41,249.13 L626.80,249.02 L627.19,249.04 L627.58,249.07 L627.97,249.07 L628.37,248.90 L628.76,248.73 L629.15,248.56 L629.54,248.49 L629.93,248.44 L630.33,248.40 L630.72,248.37 L631.11,248.36 L631.50,248.37 L631.90,248.40 L632.30,248.51 L632.70,248.61 L633.10,248.72 L633.50,248.63 L633.90,248.55 L634.30,248.47 L634.70,248.46 L635.10,248.46 L635.50,248.47 L635.90,248.51 L636.30,248.58 L636.70,248.65 L637.10,248.67 L637.50,248.56 L637.90,248.45 L638.30,248.34 L638.70,248.42 L639.10,248.51 L639.50,248.60 L639.90,248.60 L640.30,248.58 L640.70,248.56 L641.10,248.52 L641.50,248.48 L641.90,248.44 L642.30,248.44 L642.70,248.57 L643.10,248.70 L643.50,248.83 L643.90,248.74 L644.30,248.64 L644.70,248.55 L645.10,248.51 L645.50,248.50 L645.90,248.49 L646.30,248.52 L646.70,248.59 L647.10,248.66 L647.50,248.72 L647.90,248.74 L648.30,248.77 L648.70,248.80 L649.10,248.69 L649.50,248.58 L649.90,248.47 L650.30,248.43 L650.70,248.42 L651.10,248.40 L651.50,248.46 L651.90,248.61 L652.30,248.75 L652.70,248.83 L653.10,248.74 L653.50,248.65 L653.90,248.56 L654.30,248.58 L654.70,248.60 L655.10,248.61 L655.50,248.61 L655.90,248.60 L656.30,248.58 L656.70,248.61 L657.10,248.67 L657.50,248.74 L657.90,248.77 L658.30,248.70" fill="none" stroke="#EB1923" stroke-width="1.75" stroke-linejoin="round" stroke-linecap="round"/>
<line x1="73.4" y1="60.5" x2="71.8" y2="100" stroke="#22AA46" stroke-width="1.1"/>
<line x1="93.8" y1="104.4" x2="82.8" y2="153.3" stroke="#22AA46" stroke-width="1.1"/>
<line x1="125.1" y1="100" x2="125.2" y2="122.5" stroke="#22AA46" stroke-width="1.1"/>
<line x1="172.3" y1="208.8" x2="206.6" y2="162.4" stroke="#22AA46" stroke-width="1.1"/>
<line x1="263.2" y1="111.7" x2="274" y2="121" stroke="#22AA46" stroke-width="1.1"/>
<line x1="279" y1="97.7" x2="299.4" y2="104.2" stroke="#22AA46" stroke-width="1.1"/>
<line x1="563.9" y1="123.4" x2="581.8" y2="142.2" stroke="#22AA46" stroke-width="1.1"/>
<line x1="167.2" y1="233.5" x2="176.5" y2="247.6" stroke="#1AA7E3" stroke-width="1.1"/>
<line x1="226.1" y1="225.2" x2="218.2" y2="233.4" stroke="#1AA7E3" stroke-width="1.1"/>
<line x1="260.2" y1="201.9" x2="262.5" y2="234.3" stroke="#1AA7E3" stroke-width="1.1"/>
<line x1="277.7" y1="229.9" x2="296.3" y2="235.2" stroke="#1AA7E3" stroke-width="1.1"/>
<line x1="561.9" y1="251.9" x2="573.1" y2="267.7" stroke="#1AA7E3" stroke-width="1.1"/>
<line x1="73.5" y1="324" x2="73.5" y2="356" stroke="#EB1923" stroke-width="1.1"/>
<line x1="93.5" y1="310.1" x2="87.3" y2="319.2" stroke="#EB1923" stroke-width="1.1"/>
<line x1="125.2" y1="315.5" x2="131" y2="388" stroke="#EB1923" stroke-width="1.1"/>
<line x1="172.8" y1="477.4" x2="212.7" y2="460.3" stroke="#EB1923" stroke-width="1.1"/>
<line x1="265.2" y1="295.1" x2="280" y2="304.9" stroke="#EB1923" stroke-width="1.1"/>
<line x1="567.2" y1="318.7" x2="532.2" y2="326.6" stroke="#EB1923" stroke-width="1.1"/>
<line x1="64.4" y1="20.25" x2="64.4" y2="488.65000000000003" stroke="#151515" stroke-width="1.9"/>
<line x1="63.45" y1="21.0" x2="659.03" y2="21.0" stroke="#151515" stroke-width="1.5"/>
<line x1="658.35" y1="20.25" x2="658.35" y2="488.65000000000003" stroke="#151515" stroke-width="1.35"/>
<line x1="63.45" y1="487.8" x2="659.03" y2="487.8" stroke="#151515" stroke-width="1.7"/>
<line x1="76.65" y1="487.8" x2="76.65" y2="497.0" stroke="#151515" stroke-width="1.55"/>
<line x1="159.75" y1="487.8" x2="159.75" y2="497.0" stroke="#151515" stroke-width="1.55"/>
<line x1="242.85" y1="487.8" x2="242.85" y2="497.0" stroke="#151515" stroke-width="1.55"/>
<line x1="325.95" y1="487.8" x2="325.95" y2="497.0" stroke="#151515" stroke-width="1.55"/>
<line x1="409.05" y1="487.8" x2="409.05" y2="497.0" stroke="#151515" stroke-width="1.55"/>
<line x1="492.15" y1="487.8" x2="492.15" y2="497.0" stroke="#151515" stroke-width="1.55"/>
<line x1="575.25" y1="487.8" x2="575.25" y2="497.0" stroke="#151515" stroke-width="1.55"/>
<line x1="658.35" y1="487.8" x2="658.35" y2="497.0" stroke="#151515" stroke-width="1.35"/>
<line x1="118.20" y1="487.8" x2="118.20" y2="492.5" stroke="#151515" stroke-width="1.5"/>
<line x1="201.30" y1="487.8" x2="201.30" y2="492.5" stroke="#151515" stroke-width="1.5"/>
<line x1="284.40" y1="487.8" x2="284.40" y2="492.5" stroke="#151515" stroke-width="1.5"/>
<line x1="367.50" y1="487.8" x2="367.50" y2="492.5" stroke="#151515" stroke-width="1.5"/>
<line x1="450.60" y1="487.8" x2="450.60" y2="492.5" stroke="#151515" stroke-width="1.5"/>
<line x1="533.70" y1="487.8" x2="533.70" y2="492.5" stroke="#151515" stroke-width="1.5"/>
<line x1="616.80" y1="487.8" x2="616.80" y2="492.5" stroke="#151515" stroke-width="1.5"/>
<g font-family="'Liberation Sans', Arial, sans-serif" font-size="19.5" fill="#111" stroke="#111" stroke-width="0.25" text-anchor="middle">
<text x="76.65" y="518.8">500</text>
<text x="159.75" y="518.8">1000</text>
<text x="242.85" y="518.8">1500</text>
<text x="325.95" y="518.8">2000</text>
<text x="409.05" y="518.8">2500</text>
<text x="492.15" y="518.8">3000</text>
<text x="575.25" y="518.8">3500</text>
<text x="658.35" y="518.8">4000</text>
</g>
<text x="361.3" y="554.9" stroke="#111" stroke-width="0.3" font-family="'Liberation Sans', Arial, sans-serif" font-size="24" fill="#111" text-anchor="middle">Wavenumber (cm-1)</text>
<text transform="translate(34.8,255) rotate(-90)" stroke="#111" stroke-width="0.3" font-family="'Liberation Sans', Arial, sans-serif" font-size="23.95" fill="#111" text-anchor="middle">Transmittance%</text>
<g font-family="'Liberation Sans', Arial, sans-serif" font-weight="bold" font-size="22.6" fill="#22AA46" text-anchor="middle">
<text x="88.0" y="52.5">474</text>
<text x="92.3" y="169.9">605</text>
<text x="132.1" y="146.3">792</text>
<text x="233.6" y="161.2">1064</text>
<text x="293.4" y="140.3">1635</text>
<text x="327.7" y="116.6">1718</text>
<text x="584.4" y="161.7">3465</text>
</g>
<g font-family="'Liberation Sans', Arial, sans-serif" font-weight="bold" font-size="22.6" fill="#1AA7E3" text-anchor="middle">
<text x="174.6" y="264.8">1047</text>
<text x="220.3" y="246.3">1302</text>
<text x="270.3" y="194.2">1620</text>
<text x="325.5" y="241.5">1715</text>
<text x="575.4" y="285.0">3427</text>
</g>
<g font-family="'Liberation Sans', Arial, sans-serif" font-weight="bold" font-size="22.6" fill="#EB1923" text-anchor="middle">
<text x="103.2" y="337.0">606</text>
<text x="89" y="379.6">473</text>
<text x="129" y="414.2">792</text>
<text x="238.4" y="464.5">1064</text>
<text x="278.1" y="321.7">1637</text>
<text x="523.5" y="343.7">3464</text>
</g>
<rect x="452.7" y="364.6" width="197" height="91.6" fill="#fff" stroke="#444" stroke-width="1"/>
<line x1="456.6" y1="381.1" x2="510" y2="381.1" stroke="#22AA46" stroke-width="1.8"/>
<text x="516.5" y="389.1" font-family="'Liberation Sans', Arial, sans-serif" font-size="24.1" fill="#111" stroke="#111" stroke-width="0.3">Clin@GO</text>
<line x1="456.6" y1="410.2" x2="510" y2="410.2" stroke="#EB1923" stroke-width="1.8"/>
<text x="516.5" y="418.8" font-family="'Liberation Sans', Arial, sans-serif" font-size="24.1" fill="#111" stroke="#111" stroke-width="0.3">Clinoptilolite</text>
<line x1="456.6" y1="439.3" x2="510" y2="439.3" stroke="#1AA7E3" stroke-width="1.8"/>
<text x="516.5" y="448.3" font-family="'Liberation Sans', Arial, sans-serif" font-size="24.1" fill="#111" stroke="#111" stroke-width="0.3">GO</text>
</svg>
</body></html>
